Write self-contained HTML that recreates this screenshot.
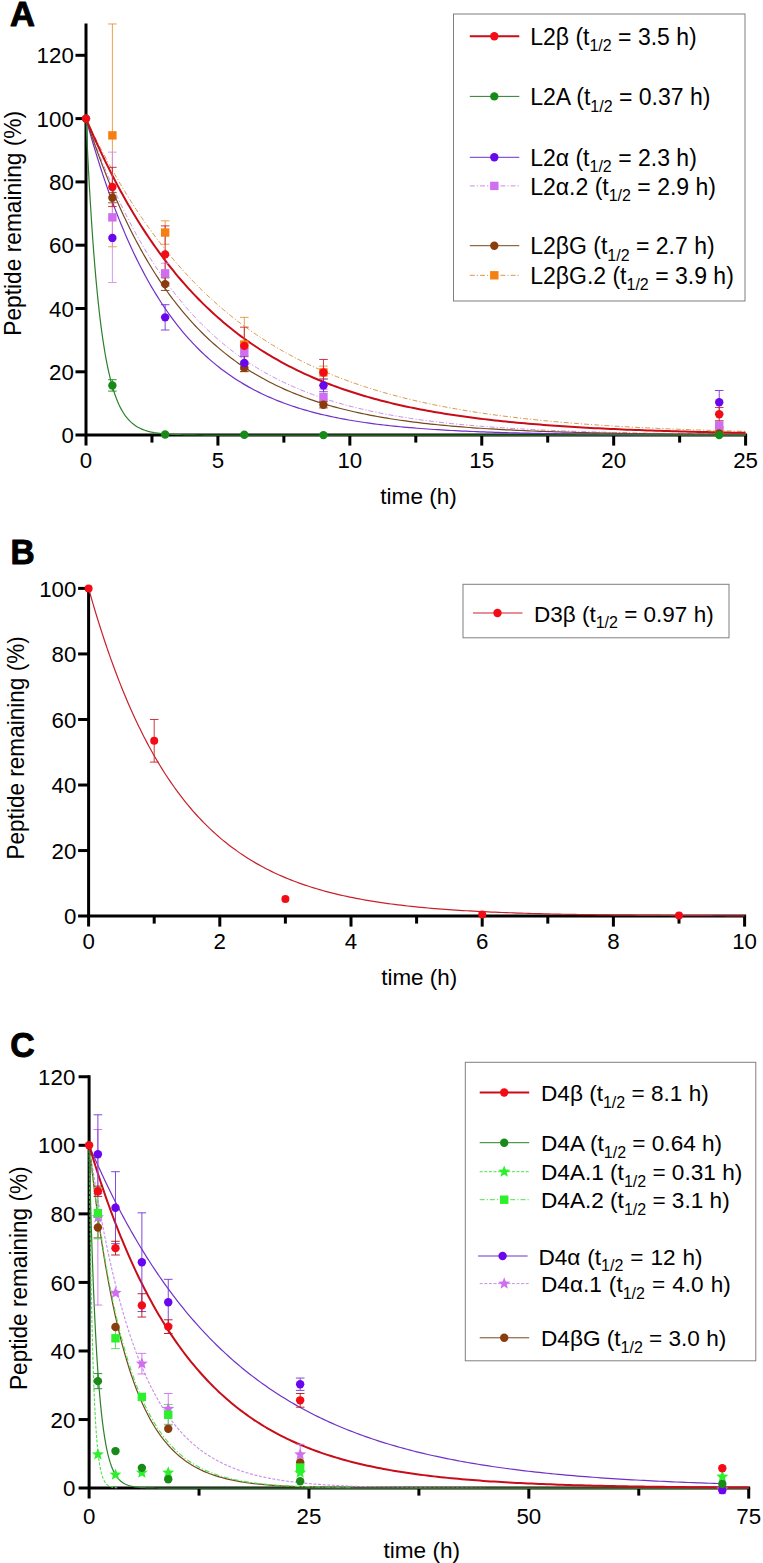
<!DOCTYPE html>
<html><head><meta charset="utf-8"><title>Peptide stability</title>
<style>html,body{margin:0;padding:0;background:#fff}svg{display:block}text{font-family:"Liberation Sans", sans-serif;fill:#000}.tk{font-size:23px}.ax{font-size:22px}.yl{font-size:23.5px}.lg{font-size:23px}.sb{font-size:16px}.pl{font-size:35.6px;font-weight:bold;stroke:#000;stroke-width:1px;stroke-linejoin:round}</style></head><body>
<svg width="763" height="1563" viewBox="0 0 763 1563">
<rect width="763" height="1563" fill="#fff"/>
<!-- Panel A -->
<text transform="translate(9.9 26.4) scale(0.97 1)" text-anchor="start" class="pl">A</text>
<path d="M86 23.6V445.6" stroke="#000" stroke-width="3" fill="none"/>
<path d="M75.5 435.1H747.1" stroke="#000" stroke-width="3" fill="none"/>
<text transform="translate(73.8 443.2) scale(0.97 1)" text-anchor="end" class="tk">0</text>
<path d="M75.5 371.8H86" stroke="#000" stroke-width="3"/>
<text transform="translate(73.8 379.9) scale(0.97 1)" text-anchor="end" class="tk">20</text>
<path d="M75.5 308.5H86" stroke="#000" stroke-width="3"/>
<text transform="translate(73.8 316.6) scale(0.97 1)" text-anchor="end" class="tk">40</text>
<path d="M75.5 245.2H86" stroke="#000" stroke-width="3"/>
<text transform="translate(73.8 253.3) scale(0.97 1)" text-anchor="end" class="tk">60</text>
<path d="M75.5 181.9H86" stroke="#000" stroke-width="3"/>
<text transform="translate(73.8 190) scale(0.97 1)" text-anchor="end" class="tk">80</text>
<path d="M75.5 118.6H86" stroke="#000" stroke-width="3"/>
<text transform="translate(73.8 126.7) scale(0.97 1)" text-anchor="end" class="tk">100</text>
<path d="M75.5 55.3H86" stroke="#000" stroke-width="3"/>
<text transform="translate(73.8 63.4) scale(0.97 1)" text-anchor="end" class="tk">120</text>
<text transform="translate(86 467.5) scale(0.97 1)" text-anchor="middle" class="tk">0</text>
<path d="M217.92 435.1V445.6" stroke="#000" stroke-width="3"/>
<text transform="translate(217.92 467.5) scale(0.97 1)" text-anchor="middle" class="tk">5</text>
<path d="M349.84 435.1V445.6" stroke="#000" stroke-width="3"/>
<text transform="translate(349.84 467.5) scale(0.97 1)" text-anchor="middle" class="tk">10</text>
<path d="M481.76 435.1V445.6" stroke="#000" stroke-width="3"/>
<text transform="translate(481.76 467.5) scale(0.97 1)" text-anchor="middle" class="tk">15</text>
<path d="M613.68 435.1V445.6" stroke="#000" stroke-width="3"/>
<text transform="translate(613.68 467.5) scale(0.97 1)" text-anchor="middle" class="tk">20</text>
<path d="M745.6 435.1V445.6" stroke="#000" stroke-width="3"/>
<text transform="translate(745.6 467.5) scale(0.97 1)" text-anchor="middle" class="tk">25</text>
<path d="M151.96 435.1V442.6" stroke="#000" stroke-width="3"/>
<path d="M283.88 435.1V442.6" stroke="#000" stroke-width="3"/>
<path d="M415.8 435.1V442.6" stroke="#000" stroke-width="3"/>
<path d="M547.72 435.1V442.6" stroke="#000" stroke-width="3"/>
<path d="M679.64 435.1V442.6" stroke="#000" stroke-width="3"/>
<text x="418.6" y="504.2" text-anchor="middle" class="ax" style="font-size:22.6px">time (h)</text>
<text transform="translate(20.9 223.3) rotate(-90) scale(0.967 1)" text-anchor="middle" class="yl">Peptide remaining (%)</text>
<path d="M86 118.6L86.1 118.82L86.31 119.26L86.59 119.87L86.94 120.6L87.35 121.46L87.8 122.42L88.31 123.48L88.86 124.63L89.45 125.87L90.08 127.19L90.76 128.58L91.47 130.04L92.21 131.57L92.99 133.17L93.81 134.82L94.66 136.54L95.54 138.3L96.46 140.13L97.4 142L98.38 143.92L99.38 145.88L100.42 147.89L101.48 149.94L102.57 152.02L103.69 154.15L104.83 156.31L106 158.5L107.2 160.73L108.43 162.98L109.68 165.26L110.95 167.57L112.25 169.9L113.58 172.26L114.93 174.64L116.3 177.04L117.7 179.45L119.12 181.89L120.56 184.34L122.03 186.8L123.52 189.28L125.03 191.77L126.56 194.27L128.12 196.79L129.7 199.31L131.3 201.83L132.92 204.37L134.56 206.91L136.23 209.45L137.91 212L139.62 214.54L141.34 217.09L143.09 219.64L144.86 222.19L146.64 224.74L148.45 227.28L150.28 229.83L152.12 232.36L153.99 234.89L155.87 237.42L157.78 239.94L159.7 242.45L161.64 244.96L163.6 247.45L165.58 249.94L167.58 252.42L169.6 254.88L171.64 257.34L173.69 259.78L175.76 262.21L177.85 264.63L179.96 267.03L182.09 269.42L184.23 271.8L186.4 274.16L188.57 276.51L190.77 278.84L192.99 281.15L195.22 283.45L197.47 285.73L199.73 287.99L202.02 290.23L204.32 292.46L206.63 294.67L208.97 296.86L211.32 299.03L213.69 301.19L216.07 303.32L218.47 305.43L220.89 307.53L223.32 309.6L225.77 311.65L228.23 313.69L230.72 315.7L233.21 317.69L235.73 319.66L238.26 321.61L240.8 323.54L243.36 325.45L245.94 327.34L248.53 329.2L251.14 331.05L253.77 332.87L256.4 334.67L259.06 336.45L261.73 338.21L264.42 339.95L267.12 341.66L269.83 343.36L272.56 345.03L275.31 346.68L278.07 348.31L280.85 349.92L283.64 351.5L286.44 353.07L289.26 354.61L292.1 356.14L294.95 357.64L297.81 359.12L300.69 360.58L303.59 362.02L306.5 363.43L309.42 364.83L312.36 366.21L315.31 367.56L318.27 368.9L321.25 370.22L324.25 371.51L327.26 372.79L330.28 374.04L333.32 375.28L336.37 376.5L339.43 377.69L342.51 378.87L345.6 380.03L348.71 381.17L351.83 382.29L354.96 383.4L358.11 384.48L361.27 385.55L364.45 386.6L367.64 387.63L370.84 388.64L374.06 389.64L377.29 390.62L380.53 391.58L383.79 392.52L387.06 393.45L390.34 394.36L393.64 395.26L396.95 396.13L400.27 397L403.61 397.84L406.96 398.67L410.32 399.49L413.7 400.29L417.09 401.08L420.49 401.85L423.9 402.6L427.33 403.35L430.77 404.07L434.23 404.79L437.7 405.49L441.18 406.17L444.67 406.85L448.17 407.51L451.69 408.15L455.22 408.79L458.77 409.41L462.32 410.01L465.89 410.61L469.47 411.19L473.07 411.77L476.68 412.33L480.3 412.87L483.93 413.41L487.57 413.94L491.23 414.45L494.9 414.96L498.58 415.45L502.27 415.93L505.98 416.41L509.7 416.87L513.43 417.32L517.17 417.76L520.93 418.2L524.7 418.62L528.48 419.03L532.27 419.44L536.07 419.84L539.89 420.22L543.72 420.6L547.56 420.97L551.41 421.33L555.27 421.69L559.15 422.03L563.04 422.37L566.94 422.7L570.85 423.02L574.77 423.34L578.71 423.65L582.66 423.95L586.62 424.24L590.59 424.53L594.57 424.81L598.56 425.08L602.57 425.35L606.59 425.61L610.62 425.86L614.66 426.11L618.71 426.35L622.78 426.59L626.85 426.82L630.94 427.04L635.04 427.26L639.15 427.48L643.27 427.69L647.41 427.89L651.55 428.09L655.71 428.28L659.88 428.47L664.06 428.65L668.25 428.83L672.45 429.01L676.66 429.18L680.89 429.35L685.12 429.51L689.37 429.67L693.63 429.82L697.9 429.97L702.18 430.11L706.47 430.26L710.77 430.39L715.09 430.53L719.41 430.66L723.75 430.79L728.1 430.91L732.46 431.03L736.83 431.15L741.21 431.27L745.6 431.38" stroke="#d9994a" stroke-width="1" fill="none" stroke-dasharray="5 2 1.2 2"/>
<path d="M86 118.6L86.1 118.89L86.31 119.49L86.59 120.3L86.94 121.29L87.35 122.44L87.8 123.73L88.31 125.15L88.86 126.69L89.45 128.34L90.08 130.09L90.76 131.94L91.47 133.89L92.21 135.92L92.99 138.03L93.81 140.22L94.66 142.48L95.54 144.81L96.46 147.2L97.4 149.66L98.38 152.17L99.38 154.73L100.42 157.35L101.48 160.01L102.57 162.71L103.69 165.46L104.83 168.24L106 171.06L107.2 173.91L108.43 176.79L109.68 179.7L110.95 182.64L112.25 185.59L113.58 188.57L114.93 191.56L116.3 194.57L117.7 197.6L119.12 200.64L120.56 203.68L122.03 206.74L123.52 209.8L125.03 212.86L126.56 215.93L128.12 219L129.7 222.07L131.3 225.13L132.92 228.19L134.56 231.25L136.23 234.3L137.91 237.34L139.62 240.37L141.34 243.39L143.09 246.4L144.86 249.4L146.64 252.38L148.45 255.35L150.28 258.3L152.12 261.23L153.99 264.14L155.87 267.04L157.78 269.91L159.7 272.77L161.64 275.6L163.6 278.41L165.58 281.19L167.58 283.95L169.6 286.69L171.64 289.4L173.69 292.09L175.76 294.75L177.85 297.38L179.96 299.99L182.09 302.57L184.23 305.12L186.4 307.64L188.57 310.13L190.77 312.59L192.99 315.02L195.22 317.43L197.47 319.8L199.73 322.14L202.02 324.46L204.32 326.74L206.63 328.99L208.97 331.21L211.32 333.4L213.69 335.56L216.07 337.68L218.47 339.78L220.89 341.84L223.32 343.87L225.77 345.88L228.23 347.85L230.72 349.79L233.21 351.7L235.73 353.57L238.26 355.42L240.8 357.24L243.36 359.02L245.94 360.78L248.53 362.5L251.14 364.2L253.77 365.86L256.4 367.5L259.06 369.11L261.73 370.68L264.42 372.23L267.12 373.75L269.83 375.24L272.56 376.71L275.31 378.14L278.07 379.55L280.85 380.93L283.64 382.28L286.44 383.61L289.26 384.9L292.1 386.18L294.95 387.42L297.81 388.65L300.69 389.84L303.59 391.01L306.5 392.16L309.42 393.28L312.36 394.38L315.31 395.45L318.27 396.5L321.25 397.53L324.25 398.54L327.26 399.52L330.28 400.48L333.32 401.42L336.37 402.34L339.43 403.24L342.51 404.11L345.6 404.97L348.71 405.81L351.83 406.62L354.96 407.42L358.11 408.2L361.27 408.96L364.45 409.7L367.64 410.42L370.84 411.13L374.06 411.82L377.29 412.49L380.53 413.14L383.79 413.78L387.06 414.4L390.34 415.01L393.64 415.6L396.95 416.18L400.27 416.74L403.61 417.28L406.96 417.82L410.32 418.34L413.7 418.84L417.09 419.33L420.49 419.81L423.9 420.28L427.33 420.73L430.77 421.17L434.23 421.6L437.7 422.02L441.18 422.42L444.67 422.82L448.17 423.2L451.69 423.58L455.22 423.94L458.77 424.29L462.32 424.63L465.89 424.97L469.47 425.29L473.07 425.6L476.68 425.91L480.3 426.21L483.93 426.49L487.57 426.77L491.23 427.04L494.9 427.31L498.58 427.56L502.27 427.81L505.98 428.05L509.7 428.29L513.43 428.51L517.17 428.73L520.93 428.95L524.7 429.15L528.48 429.35L532.27 429.55L536.07 429.73L539.89 429.92L543.72 430.09L547.56 430.26L551.41 430.43L555.27 430.59L559.15 430.75L563.04 430.9L566.94 431.04L570.85 431.18L574.77 431.32L578.71 431.45L582.66 431.58L586.62 431.71L590.59 431.83L594.57 431.94L598.56 432.05L602.57 432.16L606.59 432.27L610.62 432.37L614.66 432.47L618.71 432.56L622.78 432.65L626.85 432.74L630.94 432.83L635.04 432.91L639.15 432.99L643.27 433.07L647.41 433.14L651.55 433.22L655.71 433.28L659.88 433.35L664.06 433.42L668.25 433.48L672.45 433.54L676.66 433.6L680.89 433.65L685.12 433.71L689.37 433.76L693.63 433.81L697.9 433.86L702.18 433.91L706.47 433.95L710.77 434L715.09 434.04L719.41 434.08L723.75 434.12L728.1 434.16L732.46 434.19L736.83 434.23L741.21 434.26L745.6 434.3" stroke="#c88fe8" stroke-width="1" fill="none" stroke-dasharray="5 2 1.2 2"/>
<path d="M86 118.6L86.1 118.98L86.31 119.74L86.59 120.77L86.94 122.03L87.35 123.49L87.8 125.14L88.31 126.94L88.86 128.89L89.45 130.99L90.08 133.21L90.76 135.55L91.47 138L92.21 140.56L92.99 143.21L93.81 145.96L94.66 148.78L95.54 151.69L96.46 154.67L97.4 157.72L98.38 160.84L99.38 164.01L100.42 167.23L101.48 170.51L102.57 173.83L103.69 177.19L104.83 180.58L106 184.01L107.2 187.47L108.43 190.95L109.68 194.46L110.95 197.99L112.25 201.53L113.58 205.08L114.93 208.65L116.3 212.22L117.7 215.79L119.12 219.37L120.56 222.94L122.03 226.51L123.52 230.08L125.03 233.63L126.56 237.18L128.12 240.71L129.7 244.23L131.3 247.73L132.92 251.22L134.56 254.68L136.23 258.12L137.91 261.54L139.62 264.93L141.34 268.29L143.09 271.63L144.86 274.94L146.64 278.22L148.45 281.46L150.28 284.68L152.12 287.86L153.99 291L155.87 294.11L157.78 297.19L159.7 300.22L161.64 303.22L163.6 306.18L165.58 309.1L167.58 311.98L169.6 314.83L171.64 317.63L173.69 320.39L175.76 323.1L177.85 325.78L179.96 328.42L182.09 331.01L184.23 333.56L186.4 336.07L188.57 338.54L190.77 340.96L192.99 343.34L195.22 345.68L197.47 347.98L199.73 350.24L202.02 352.45L204.32 354.62L206.63 356.75L208.97 358.84L211.32 360.88L213.69 362.89L216.07 364.85L218.47 366.78L220.89 368.66L223.32 370.51L225.77 372.31L228.23 374.08L230.72 375.81L233.21 377.5L235.73 379.15L238.26 380.76L240.8 382.34L243.36 383.88L245.94 385.39L248.53 386.86L251.14 388.29L253.77 389.69L256.4 391.06L259.06 392.39L261.73 393.69L264.42 394.96L267.12 396.19L269.83 397.4L272.56 398.57L275.31 399.71L278.07 400.82L280.85 401.91L283.64 402.96L286.44 403.99L289.26 404.99L292.1 405.96L294.95 406.91L297.81 407.83L300.69 408.72L303.59 409.59L306.5 410.43L309.42 411.25L312.36 412.05L315.31 412.82L318.27 413.58L321.25 414.31L324.25 415.01L327.26 415.7L330.28 416.37L333.32 417.02L336.37 417.64L339.43 418.25L342.51 418.84L345.6 419.41L348.71 419.97L351.83 420.5L354.96 421.02L358.11 421.53L361.27 422.01L364.45 422.49L367.64 422.94L370.84 423.39L374.06 423.81L377.29 424.23L380.53 424.63L383.79 425.02L387.06 425.39L390.34 425.75L393.64 426.1L396.95 426.44L400.27 426.77L403.61 427.08L406.96 427.39L410.32 427.68L413.7 427.97L417.09 428.24L420.49 428.51L423.9 428.76L427.33 429.01L430.77 429.25L434.23 429.48L437.7 429.7L441.18 429.91L444.67 430.12L448.17 430.31L451.69 430.5L455.22 430.69L458.77 430.87L462.32 431.04L465.89 431.2L469.47 431.36L473.07 431.51L476.68 431.66L480.3 431.8L483.93 431.94L487.57 432.07L491.23 432.19L494.9 432.31L498.58 432.43L502.27 432.54L505.98 432.65L509.7 432.75L513.43 432.85L517.17 432.95L520.93 433.04L524.7 433.13L528.48 433.21L532.27 433.29L536.07 433.37L539.89 433.44L543.72 433.52L547.56 433.58L551.41 433.65L555.27 433.71L559.15 433.78L563.04 433.83L566.94 433.89L570.85 433.94L574.77 433.99L578.71 434.04L582.66 434.09L586.62 434.14L590.59 434.18L594.57 434.22L598.56 434.26L602.57 434.3L606.59 434.33L610.62 434.37L614.66 434.4L618.71 434.43L622.78 434.47L626.85 434.49L630.94 434.52L635.04 434.55L639.15 434.58L643.27 434.6L647.41 434.62L651.55 434.65L655.71 434.67L659.88 434.69L664.06 434.71L668.25 434.73L672.45 434.74L676.66 434.76L680.89 434.78L685.12 434.79L689.37 434.81L693.63 434.82L697.9 434.83L702.18 434.85L706.47 434.86L710.77 434.87L715.09 434.88L719.41 434.89L723.75 434.9L728.1 434.91L732.46 434.92L736.83 434.93L741.21 434.94L745.6 434.95" stroke="#6f30c8" stroke-width="1.2" fill="none"/>
<path d="M86 118.6L86.1 118.92L86.31 119.56L86.59 120.43L86.94 121.49L87.35 122.72L87.8 124.1L88.31 125.63L88.86 127.28L89.45 129.05L90.08 130.93L90.76 132.91L91.47 134.99L92.21 137.16L92.99 139.42L93.81 141.76L94.66 144.18L95.54 146.66L96.46 149.22L97.4 151.83L98.38 154.51L99.38 157.24L100.42 160.02L101.48 162.85L102.57 165.72L103.69 168.64L104.83 171.59L106 174.58L107.2 177.6L108.43 180.65L109.68 183.73L110.95 186.83L112.25 189.95L113.58 193.09L114.93 196.25L116.3 199.42L117.7 202.6L119.12 205.79L120.56 208.99L122.03 212.19L123.52 215.4L125.03 218.61L126.56 221.82L128.12 225.02L129.7 228.22L131.3 231.42L132.92 234.61L134.56 237.78L136.23 240.95L137.91 244.11L139.62 247.25L141.34 250.38L143.09 253.49L144.86 256.59L146.64 259.67L148.45 262.72L150.28 265.76L152.12 268.77L153.99 271.77L155.87 274.74L157.78 277.68L159.7 280.6L161.64 283.49L163.6 286.36L165.58 289.2L167.58 292.01L169.6 294.79L171.64 297.54L173.69 300.26L175.76 302.95L177.85 305.62L179.96 308.24L182.09 310.84L184.23 313.41L186.4 315.94L188.57 318.44L190.77 320.91L192.99 323.34L195.22 325.74L197.47 328.11L199.73 330.44L202.02 332.74L204.32 335.01L206.63 337.24L208.97 339.44L211.32 341.6L213.69 343.73L216.07 345.82L218.47 347.89L220.89 349.91L223.32 351.91L225.77 353.86L228.23 355.79L230.72 357.68L233.21 359.54L235.73 361.37L238.26 363.16L240.8 364.92L243.36 366.65L245.94 368.34L248.53 370.01L251.14 371.64L253.77 373.24L256.4 374.8L259.06 376.34L261.73 377.85L264.42 379.33L267.12 380.77L269.83 382.19L272.56 383.58L275.31 384.94L278.07 386.27L280.85 387.57L283.64 388.84L286.44 390.09L289.26 391.3L292.1 392.5L294.95 393.66L297.81 394.8L300.69 395.91L303.59 397L306.5 398.06L309.42 399.1L312.36 400.12L315.31 401.11L318.27 402.08L321.25 403.02L324.25 403.94L327.26 404.84L330.28 405.72L333.32 406.57L336.37 407.41L339.43 408.22L342.51 409.01L345.6 409.79L348.71 410.54L351.83 411.27L354.96 411.99L358.11 412.69L361.27 413.37L364.45 414.03L367.64 414.67L370.84 415.3L374.06 415.91L377.29 416.5L380.53 417.08L383.79 417.64L387.06 418.19L390.34 418.72L393.64 419.24L396.95 419.74L400.27 420.23L403.61 420.7L406.96 421.17L410.32 421.61L413.7 422.05L417.09 422.47L420.49 422.88L423.9 423.28L427.33 423.67L430.77 424.05L434.23 424.41L437.7 424.77L441.18 425.11L444.67 425.45L448.17 425.77L451.69 426.08L455.22 426.39L458.77 426.68L462.32 426.97L465.89 427.25L469.47 427.52L473.07 427.78L476.68 428.03L480.3 428.27L483.93 428.51L487.57 428.74L491.23 428.96L494.9 429.18L498.58 429.39L502.27 429.59L505.98 429.78L509.7 429.97L513.43 430.16L517.17 430.33L520.93 430.5L524.7 430.67L528.48 430.83L532.27 430.98L536.07 431.13L539.89 431.28L543.72 431.42L547.56 431.55L551.41 431.68L555.27 431.81L559.15 431.93L563.04 432.05L566.94 432.16L570.85 432.27L574.77 432.38L578.71 432.48L582.66 432.58L586.62 432.67L590.59 432.77L594.57 432.85L598.56 432.94L602.57 433.02L606.59 433.1L610.62 433.18L614.66 433.25L618.71 433.32L622.78 433.39L626.85 433.46L630.94 433.52L635.04 433.59L639.15 433.64L643.27 433.7L647.41 433.76L651.55 433.81L655.71 433.86L659.88 433.91L664.06 433.96L668.25 434L672.45 434.05L676.66 434.09L680.89 434.13L685.12 434.17L689.37 434.21L693.63 434.24L697.9 434.28L702.18 434.31L706.47 434.34L710.77 434.38L715.09 434.4L719.41 434.43L723.75 434.46L728.1 434.49L732.46 434.51L736.83 434.54L741.21 434.56L745.6 434.58" stroke="#76481c" stroke-width="1.2" fill="none"/>
<path d="M86 118.6L86.1 120.9L86.31 125.51L86.59 131.69L86.94 139.09L87.35 147.46L87.8 156.63L88.31 166.43L88.86 176.71L89.45 187.35L90.08 198.25L90.76 209.29L91.47 220.4L92.21 231.49L92.99 242.48L93.81 253.33L94.66 263.97L95.54 274.36L96.46 284.46L97.4 294.24L98.38 303.66L99.38 312.71L100.42 321.37L101.48 329.64L102.57 337.5L103.69 344.95L104.83 351.99L106 358.63L107.2 364.87L108.43 370.71L109.68 376.18L110.95 381.28L112.25 386.03L113.58 390.44L114.93 394.52L116.3 398.29L117.7 401.76L119.12 404.96L120.56 407.9L122.03 410.59L123.52 413.05L125.03 415.29L126.56 417.34L128.12 419.2L129.7 420.88L131.3 422.41L132.92 423.79L134.56 425.03L136.23 426.16L137.91 427.16L139.62 428.07L141.34 428.88L143.09 429.61L144.86 430.25L146.64 430.83L148.45 431.34L150.28 431.8L152.12 432.21L153.99 432.57L155.87 432.88L157.78 433.16L159.7 433.41L161.64 433.63L163.6 433.82L165.58 433.99L167.58 434.13L169.6 434.26L171.64 434.38L173.69 434.47L175.76 434.56L177.85 434.63L179.96 434.7L182.09 434.76L184.23 434.8L186.4 434.85L188.57 434.88L190.77 434.91L192.99 434.94L195.22 434.96L197.47 434.98L199.73 435L202.02 435.02L204.32 435.03L206.63 435.04L208.97 435.05L211.32 435.06L213.69 435.06L216.07 435.07L218.47 435.07L220.89 435.08L223.32 435.08L225.77 435.08L228.23 435.09L230.72 435.09L233.21 435.09L235.73 435.09L238.26 435.09L240.8 435.09L243.36 435.1L245.94 435.1L248.53 435.1L251.14 435.1L253.77 435.1L256.4 435.1L259.06 435.1L261.73 435.1L264.42 435.1L267.12 435.1L269.83 435.1L272.56 435.1L275.31 435.1L278.07 435.1L280.85 435.1L283.64 435.1L286.44 435.1L289.26 435.1L292.1 435.1L294.95 435.1L297.81 435.1L300.69 435.1L303.59 435.1L306.5 435.1L309.42 435.1L312.36 435.1L315.31 435.1L318.27 435.1L321.25 435.1L324.25 435.1L327.26 435.1L330.28 435.1L333.32 435.1L336.37 435.1L339.43 435.1L342.51 435.1L345.6 435.1L348.71 435.1L351.83 435.1L354.96 435.1L358.11 435.1L361.27 435.1L364.45 435.1L367.64 435.1L370.84 435.1L374.06 435.1L377.29 435.1L380.53 435.1L383.79 435.1L387.06 435.1L390.34 435.1L393.64 435.1L396.95 435.1L400.27 435.1L403.61 435.1L406.96 435.1L410.32 435.1L413.7 435.1L417.09 435.1L420.49 435.1L423.9 435.1L427.33 435.1L430.77 435.1L434.23 435.1L437.7 435.1L441.18 435.1L444.67 435.1L448.17 435.1L451.69 435.1L455.22 435.1L458.77 435.1L462.32 435.1L465.89 435.1L469.47 435.1L473.07 435.1L476.68 435.1L480.3 435.1L483.93 435.1L487.57 435.1L491.23 435.1L494.9 435.1L498.58 435.1L502.27 435.1L505.98 435.1L509.7 435.1L513.43 435.1L517.17 435.1L520.93 435.1L524.7 435.1L528.48 435.1L532.27 435.1L536.07 435.1L539.89 435.1L543.72 435.1L547.56 435.1L551.41 435.1L555.27 435.1L559.15 435.1L563.04 435.1L566.94 435.1L570.85 435.1L574.77 435.1L578.71 435.1L582.66 435.1L586.62 435.1L590.59 435.1L594.57 435.1L598.56 435.1L602.57 435.1L606.59 435.1L610.62 435.1L614.66 435.1L618.71 435.1L622.78 435.1L626.85 435.1L630.94 435.1L635.04 435.1L639.15 435.1L643.27 435.1L647.41 435.1L651.55 435.1L655.71 435.1L659.88 435.1L664.06 435.1L668.25 435.1L672.45 435.1L676.66 435.1L680.89 435.1L685.12 435.1L689.37 435.1L693.63 435.1L697.9 435.1L702.18 435.1L706.47 435.1L710.77 435.1L715.09 435.1L719.41 435.1L723.75 435.1L728.1 435.1L732.46 435.1L736.83 435.1L741.21 435.1L745.6 435.1" stroke="#2c7f2c" stroke-width="1.2" fill="none"/>
<path d="M86 118.6L86.1 118.84L86.31 119.34L86.59 120.01L86.94 120.83L87.35 121.78L87.8 122.85L88.31 124.03L88.86 125.31L89.45 126.69L90.08 128.15L90.76 129.7L91.47 131.32L92.21 133.02L92.99 134.79L93.81 136.62L94.66 138.52L95.54 140.48L96.46 142.49L97.4 144.56L98.38 146.68L99.38 148.85L100.42 151.06L101.48 153.31L102.57 155.61L103.69 157.95L104.83 160.32L106 162.73L107.2 165.17L108.43 167.64L109.68 170.14L110.95 172.66L112.25 175.21L113.58 177.78L114.93 180.37L116.3 182.99L117.7 185.62L119.12 188.26L120.56 190.92L122.03 193.6L123.52 196.28L125.03 198.98L126.56 201.68L128.12 204.39L129.7 207.11L131.3 209.83L132.92 212.55L134.56 215.28L136.23 218.01L137.91 220.74L139.62 223.46L141.34 226.19L143.09 228.91L144.86 231.62L146.64 234.33L148.45 237.04L150.28 239.74L152.12 242.42L153.99 245.1L155.87 247.77L157.78 250.43L159.7 253.08L161.64 255.71L163.6 258.34L165.58 260.94L167.58 263.54L169.6 266.12L171.64 268.68L173.69 271.23L175.76 273.76L177.85 276.27L179.96 278.76L182.09 281.24L184.23 283.69L186.4 286.13L188.57 288.55L190.77 290.94L192.99 293.32L195.22 295.68L197.47 298.01L199.73 300.32L202.02 302.61L204.32 304.88L206.63 307.13L208.97 309.35L211.32 311.55L213.69 313.72L216.07 315.88L218.47 318L220.89 320.11L223.32 322.19L225.77 324.25L228.23 326.28L230.72 328.29L233.21 330.27L235.73 332.23L238.26 334.17L240.8 336.08L243.36 337.96L245.94 339.82L248.53 341.66L251.14 343.47L253.77 345.26L256.4 347.02L259.06 348.76L261.73 350.47L264.42 352.16L267.12 353.82L269.83 355.46L272.56 357.08L275.31 358.67L278.07 360.24L280.85 361.78L283.64 363.3L286.44 364.8L289.26 366.27L292.1 367.72L294.95 369.15L297.81 370.55L300.69 371.93L303.59 373.29L306.5 374.62L309.42 375.94L312.36 377.23L315.31 378.49L318.27 379.74L321.25 380.97L324.25 382.17L327.26 383.35L330.28 384.51L333.32 385.65L336.37 386.77L339.43 387.87L342.51 388.95L345.6 390.01L348.71 391.05L351.83 392.07L354.96 393.07L358.11 394.05L361.27 395.01L364.45 395.96L367.64 396.88L370.84 397.79L374.06 398.68L377.29 399.55L380.53 400.41L383.79 401.25L387.06 402.07L390.34 402.87L393.64 403.66L396.95 404.43L400.27 405.19L403.61 405.93L406.96 406.65L410.32 407.36L413.7 408.05L417.09 408.73L420.49 409.4L423.9 410.05L427.33 410.68L430.77 411.31L434.23 411.92L437.7 412.51L441.18 413.09L444.67 413.66L448.17 414.22L451.69 414.76L455.22 415.3L458.77 415.82L462.32 416.32L465.89 416.82L469.47 417.31L473.07 417.78L476.68 418.24L480.3 418.69L483.93 419.13L487.57 419.57L491.23 419.99L494.9 420.4L498.58 420.8L502.27 421.19L505.98 421.57L509.7 421.94L513.43 422.31L517.17 422.66L520.93 423.01L524.7 423.34L528.48 423.67L532.27 423.99L536.07 424.31L539.89 424.61L543.72 424.91L547.56 425.2L551.41 425.48L555.27 425.75L559.15 426.02L563.04 426.28L566.94 426.54L570.85 426.79L574.77 427.03L578.71 427.26L582.66 427.49L586.62 427.71L590.59 427.93L594.57 428.14L598.56 428.35L602.57 428.55L606.59 428.74L610.62 428.93L614.66 429.12L618.71 429.3L622.78 429.47L626.85 429.64L630.94 429.8L635.04 429.96L639.15 430.12L643.27 430.27L647.41 430.42L651.55 430.56L655.71 430.7L659.88 430.84L664.06 430.97L668.25 431.1L672.45 431.22L676.66 431.34L680.89 431.46L685.12 431.57L689.37 431.68L693.63 431.79L697.9 431.9L702.18 432L706.47 432.1L710.77 432.19L715.09 432.28L719.41 432.37L723.75 432.46L728.1 432.55L732.46 432.63L736.83 432.71L741.21 432.79L745.6 432.86" stroke="#c90d18" stroke-width="2" fill="none"/>
<path d="M112.38 23.97V246.78M108.08 23.97H116.68M108.08 246.78H116.68" stroke="#e8933c" stroke-width="0.9" fill="none"/>
<path d="M165.15 220.83V244.25M160.85 220.83H169.45M160.85 244.25H169.45" stroke="#e8933c" stroke-width="0.9" fill="none"/>
<path d="M244.3 317.36V371.8M240 317.36H248.6M240 371.8H248.6" stroke="#e8933c" stroke-width="0.9" fill="none"/>
<path d="M323.46 366.1V378.76M319.16 366.1H327.76M319.16 378.76H327.76" stroke="#e8933c" stroke-width="0.9" fill="none"/>
<path d="M719.22 427.19V433.52M714.92 427.19H723.52M714.92 433.52H723.52" stroke="#e8933c" stroke-width="0.9" fill="none"/>
<path d="M112.38 152.15V282.55M108.08 152.15H116.68M108.08 282.55H116.68" stroke="#cf8fee" stroke-width="0.9" fill="none"/>
<path d="M165.15 263.24V283.5M160.85 263.24H169.45M160.85 283.5H169.45" stroke="#cf8fee" stroke-width="0.9" fill="none"/>
<path d="M244.3 342.37V361.36M240 342.37H248.6M240 361.36H248.6" stroke="#cf8fee" stroke-width="0.9" fill="none"/>
<path d="M323.46 389.21V405.03M319.16 389.21H327.76M319.16 405.03H327.76" stroke="#cf8fee" stroke-width="0.9" fill="none"/>
<path d="M719.22 420.86V430.35M714.92 420.86H723.52M714.92 430.35H723.52" stroke="#cf8fee" stroke-width="0.9" fill="none"/>
<path d="M112.38 192.66V202.79M108.08 192.66H116.68M108.08 202.79H116.68" stroke="#8a3c0c" stroke-width="0.9" fill="none"/>
<path d="M165.15 277.8V290.46M160.85 277.8H169.45M160.85 290.46H169.45" stroke="#8a3c0c" stroke-width="0.9" fill="none"/>
<path d="M244.3 363.89V371.48M240 363.89H248.6M240 371.48H248.6" stroke="#8a3c0c" stroke-width="0.9" fill="none"/>
<path d="M323.46 401.55V407.88M319.16 401.55H327.76M319.16 407.88H327.76" stroke="#8a3c0c" stroke-width="0.9" fill="none"/>
<path d="M165.15 304.7V330.02M160.85 304.7H169.45M160.85 330.02H169.45" stroke="#7433d6" stroke-width="0.9" fill="none"/>
<path d="M244.3 356.61V369.27M240 356.61H248.6M240 369.27H248.6" stroke="#7433d6" stroke-width="0.9" fill="none"/>
<path d="M323.46 379.08V391.74M319.16 379.08H327.76M319.16 391.74H327.76" stroke="#7433d6" stroke-width="0.9" fill="none"/>
<path d="M719.22 390.47V413.89M714.92 390.47H723.52M714.92 413.89H723.52" stroke="#7433d6" stroke-width="0.9" fill="none"/>
<path d="M112.38 379.71V391.11M108.08 379.71H116.68M108.08 391.11H116.68" stroke="#188a18" stroke-width="0.9" fill="none"/>
<path d="M112.38 167.34V206.59M108.08 167.34H116.68M108.08 206.59H116.68" stroke="#c8202a" stroke-width="0.9" fill="none"/>
<path d="M165.15 225.89V282.86M160.85 225.89H169.45M160.85 282.86H169.45" stroke="#c8202a" stroke-width="0.9" fill="none"/>
<path d="M244.3 327.17V364.52M240 327.17H248.6M240 364.52H248.6" stroke="#c8202a" stroke-width="0.9" fill="none"/>
<path d="M323.46 359.46V385.41M319.16 359.46H327.76M319.16 385.41H327.76" stroke="#c8202a" stroke-width="0.9" fill="none"/>
<path d="M719.22 407.56V420.86M714.92 407.56H723.52M714.92 420.86H723.52" stroke="#c8202a" stroke-width="0.9" fill="none"/>
<rect x="108.18" y="131.17" width="8.4" height="8.4" fill="#f57f10"/>
<rect x="160.95" y="228.34" width="8.4" height="8.4" fill="#f57f10"/>
<rect x="240.1" y="340.38" width="8.4" height="8.4" fill="#f57f10"/>
<rect x="319.26" y="368.23" width="8.4" height="8.4" fill="#f57f10"/>
<rect x="715.02" y="426.15" width="8.4" height="8.4" fill="#f57f10"/>
<rect x="108.18" y="213.15" width="8.4" height="8.4" fill="#cf6ff0"/>
<rect x="160.95" y="269.17" width="8.4" height="8.4" fill="#cf6ff0"/>
<rect x="240.1" y="347.66" width="8.4" height="8.4" fill="#cf6ff0"/>
<rect x="319.26" y="392.92" width="8.4" height="8.4" fill="#cf6ff0"/>
<rect x="715.02" y="421.41" width="8.4" height="8.4" fill="#cf6ff0"/>
<circle cx="112.38" cy="197.73" r="4.2" fill="#8a3c0c"/>
<circle cx="165.15" cy="284.13" r="4.2" fill="#8a3c0c"/>
<circle cx="244.3" cy="367.69" r="4.2" fill="#8a3c0c"/>
<circle cx="323.46" cy="404.72" r="4.2" fill="#8a3c0c"/>
<circle cx="719.22" cy="433.52" r="4.2" fill="#8a3c0c"/>
<circle cx="112.38" cy="237.92" r="4.2" fill="#6a06ee"/>
<circle cx="165.15" cy="317.36" r="4.2" fill="#6a06ee"/>
<circle cx="244.3" cy="362.94" r="4.2" fill="#6a06ee"/>
<circle cx="323.46" cy="385.41" r="4.2" fill="#6a06ee"/>
<circle cx="719.22" cy="402.18" r="4.2" fill="#6a06ee"/>
<circle cx="86" cy="118.6" r="4.2" fill="#188a18"/>
<circle cx="112.38" cy="385.41" r="4.2" fill="#188a18"/>
<circle cx="165.15" cy="434.47" r="4.2" fill="#188a18"/>
<circle cx="244.3" cy="434.78" r="4.2" fill="#188a18"/>
<circle cx="323.46" cy="435.1" r="4.2" fill="#188a18"/>
<circle cx="719.22" cy="435.1" r="4.2" fill="#188a18"/>
<circle cx="86" cy="118.6" r="4.2" fill="#f30b16"/>
<circle cx="112.38" cy="186.96" r="4.2" fill="#f30b16"/>
<circle cx="165.15" cy="254.38" r="4.2" fill="#f30b16"/>
<circle cx="244.3" cy="345.85" r="4.2" fill="#f30b16"/>
<circle cx="323.46" cy="372.43" r="4.2" fill="#f30b16"/>
<circle cx="719.22" cy="414.21" r="4.2" fill="#f30b16"/>
<rect x="453.5" y="14" width="291.5" height="287" fill="#fff" stroke="#7f7f7f" stroke-width="1"/>
<path d="M469.8 36.2H519.3" stroke="#c90d18" stroke-width="2"/>
<circle cx="494.3" cy="36.2" r="4.2" fill="#f30b16"/>
<text x="530.2" y="44.8" class="lg" style="font-size:23px;word-spacing:0px">L2β (t<tspan class="sb" dy="6.5">1/2</tspan><tspan dy="-6.5"> = 3.5 h)</tspan></text>
<path d="M469.8 96.4H519.3" stroke="#2c7f2c" stroke-width="1"/>
<circle cx="494.3" cy="96.4" r="4.2" fill="#188a18"/>
<text x="530.2" y="105" class="lg" style="font-size:23px;word-spacing:0px">L2A (t<tspan class="sb" dy="6.5">1/2</tspan><tspan dy="-6.5"> = 0.37 h)</tspan></text>
<path d="M469.8 157.3H519.3" stroke="#6f30c8" stroke-width="1"/>
<circle cx="494.3" cy="157.3" r="4.2" fill="#6a06ee"/>
<text x="530.2" y="165.9" class="lg" style="font-size:23px;word-spacing:0px">L2α (t<tspan class="sb" dy="6.5">1/2</tspan><tspan dy="-6.5"> = 2.3 h)</tspan></text>
<path d="M469.8 185.9H519.3" stroke="#c88fe8" stroke-width="1" stroke-dasharray="5 2 1.2 2"/>
<rect x="490.1" y="181.7" width="8.4" height="8.4" fill="#cf6ff0"/>
<text x="530.2" y="194.5" class="lg" style="font-size:23px;word-spacing:0px">L2α.2 (t<tspan class="sb" dy="6.5">1/2</tspan><tspan dy="-6.5"> = 2.9 h)</tspan></text>
<path d="M469.8 245.7H519.3" stroke="#76481c" stroke-width="1"/>
<circle cx="494.3" cy="245.7" r="4.2" fill="#8a3c0c"/>
<text x="530.2" y="254.3" class="lg" style="font-size:23px;word-spacing:0px">L2βG (t<tspan class="sb" dy="6.5">1/2</tspan><tspan dy="-6.5"> = 2.7 h)</tspan></text>
<path d="M469.8 275.3H519.3" stroke="#d9994a" stroke-width="1" stroke-dasharray="5 2 1.2 2"/>
<rect x="490.1" y="271.1" width="8.4" height="8.4" fill="#f57f10"/>
<text x="530.2" y="283.9" class="lg" style="font-size:23px;word-spacing:0px">L2βG.2 (t<tspan class="sb" dy="6.5">1/2</tspan><tspan dy="-6.5"> = 3.9 h)</tspan></text>
<!-- Panel B -->
<text transform="translate(10.4 563.6) scale(0.94 1)" text-anchor="start" class="pl">B</text>
<path d="M88.6 586.9V926.6" stroke="#000" stroke-width="3" fill="none"/>
<path d="M78.1 916.1H746.1" stroke="#000" stroke-width="3" fill="none"/>
<text transform="translate(76.4 924.2) scale(0.97 1)" text-anchor="end" class="tk">0</text>
<path d="M78.1 850.56H88.6" stroke="#000" stroke-width="3"/>
<text transform="translate(76.4 858.66) scale(0.97 1)" text-anchor="end" class="tk">20</text>
<path d="M78.1 785.02H88.6" stroke="#000" stroke-width="3"/>
<text transform="translate(76.4 793.12) scale(0.97 1)" text-anchor="end" class="tk">40</text>
<path d="M78.1 719.48H88.6" stroke="#000" stroke-width="3"/>
<text transform="translate(76.4 727.58) scale(0.97 1)" text-anchor="end" class="tk">60</text>
<path d="M78.1 653.94H88.6" stroke="#000" stroke-width="3"/>
<text transform="translate(76.4 662.04) scale(0.97 1)" text-anchor="end" class="tk">80</text>
<path d="M78.1 588.4H88.6" stroke="#000" stroke-width="3"/>
<text transform="translate(76.4 596.5) scale(0.97 1)" text-anchor="end" class="tk">100</text>
<text transform="translate(88.6 948.5) scale(0.97 1)" text-anchor="middle" class="tk">0</text>
<path d="M219.8 916.1V926.6" stroke="#000" stroke-width="3"/>
<text transform="translate(219.8 948.5) scale(0.97 1)" text-anchor="middle" class="tk">2</text>
<path d="M351 916.1V926.6" stroke="#000" stroke-width="3"/>
<text transform="translate(351 948.5) scale(0.97 1)" text-anchor="middle" class="tk">4</text>
<path d="M482.2 916.1V926.6" stroke="#000" stroke-width="3"/>
<text transform="translate(482.2 948.5) scale(0.97 1)" text-anchor="middle" class="tk">6</text>
<path d="M613.4 916.1V926.6" stroke="#000" stroke-width="3"/>
<text transform="translate(613.4 948.5) scale(0.97 1)" text-anchor="middle" class="tk">8</text>
<path d="M744.6 916.1V926.6" stroke="#000" stroke-width="3"/>
<text transform="translate(744.6 948.5) scale(0.97 1)" text-anchor="middle" class="tk">10</text>
<path d="M154.2 916.1V923.6" stroke="#000" stroke-width="3"/>
<path d="M285.4 916.1V923.6" stroke="#000" stroke-width="3"/>
<path d="M416.6 916.1V923.6" stroke="#000" stroke-width="3"/>
<path d="M547.8 916.1V923.6" stroke="#000" stroke-width="3"/>
<path d="M679 916.1V923.6" stroke="#000" stroke-width="3"/>
<text x="419.2" y="985.1" text-anchor="middle" class="ax" style="font-size:22.4px">time (h)</text>
<text transform="translate(24 747.9) rotate(-90) scale(0.961 1)" text-anchor="middle" class="yl">Peptide remaining (%)</text>
<path d="M88.6 588.4L88.7 588.76L88.91 589.5L89.19 590.5L89.54 591.73L89.94 593.15L90.39 594.74L90.89 596.49L91.44 598.39L92.03 600.42L92.66 602.58L93.33 604.85L94.04 607.24L94.78 609.73L95.56 612.31L96.37 614.99L97.21 617.75L98.09 620.59L99 623.5L99.94 626.48L100.91 629.52L101.91 632.62L102.94 635.78L103.99 638.99L105.08 642.24L106.19 645.54L107.33 648.88L108.5 652.25L109.69 655.65L110.91 659.09L112.15 662.54L113.42 666.02L114.71 669.52L116.03 673.04L117.37 676.56L118.74 680.1L120.12 683.64L121.54 687.19L122.97 690.75L124.43 694.3L125.91 697.85L127.42 701.4L128.94 704.93L130.49 708.46L132.06 711.98L133.65 715.49L135.26 718.98L136.9 722.46L138.55 725.92L140.23 729.36L141.92 732.78L143.64 736.17L145.38 739.55L147.13 742.89L148.91 746.21L150.71 749.51L152.52 752.77L154.36 756.01L156.22 759.21L158.09 762.38L159.99 765.52L161.9 768.63L163.83 771.7L165.78 774.73L167.75 777.73L169.74 780.7L171.75 783.62L173.77 786.51L175.81 789.37L177.87 792.18L179.95 794.96L182.05 797.69L184.16 800.39L186.3 803.04L188.45 805.66L190.61 808.24L192.8 810.78L195 813.27L197.22 815.73L199.46 818.14L201.71 820.52L203.98 822.86L206.27 825.15L208.58 827.4L210.9 829.62L213.23 831.79L215.59 833.93L217.96 836.02L220.35 838.08L222.75 840.1L225.17 842.07L227.61 844.01L230.06 845.91L232.53 847.77L235.01 849.6L237.51 851.38L240.03 853.13L242.56 854.85L245.1 856.52L247.67 858.16L250.25 859.77L252.84 861.34L255.45 862.87L258.07 864.37L260.72 865.84L263.37 867.27L266.04 868.67L268.73 870.04L271.43 871.37L274.14 872.68L276.88 873.95L279.62 875.19L282.38 876.41L285.16 877.59L287.95 878.74L290.75 879.87L293.57 880.96L296.41 882.03L299.26 883.07L302.12 884.09L305 885.07L307.89 886.04L310.8 886.97L313.72 887.89L316.66 888.77L319.61 889.64L322.57 890.48L325.55 891.3L328.54 892.09L331.55 892.86L334.57 893.62L337.6 894.35L340.65 895.06L343.71 895.75L346.79 896.42L349.88 897.07L352.98 897.7L356.1 898.32L359.23 898.91L362.37 899.49L365.53 900.05L368.7 900.6L371.89 901.13L375.09 901.64L378.3 902.14L381.52 902.62L384.76 903.09L388.02 903.54L391.28 903.98L394.56 904.4L397.85 904.82L401.16 905.21L404.48 905.6L407.81 905.98L411.15 906.34L414.51 906.69L417.88 907.03L421.26 907.36L424.66 907.67L428.07 907.98L431.49 908.28L434.93 908.57L438.38 908.84L441.84 909.11L445.31 909.37L448.8 909.62L452.3 909.86L455.81 910.1L459.33 910.32L462.87 910.54L466.42 910.75L469.98 910.96L473.56 911.15L477.14 911.34L480.74 911.53L484.36 911.7L487.98 911.87L491.62 912.04L495.27 912.19L498.93 912.35L502.6 912.49L506.29 912.64L509.99 912.77L513.7 912.91L517.42 913.03L521.15 913.15L524.9 913.27L528.66 913.39L532.43 913.5L536.22 913.6L540.01 913.7L543.82 913.8L547.64 913.89L551.47 913.98L555.31 914.07L559.17 914.15L563.03 914.23L566.91 914.31L570.8 914.38L574.71 914.46L578.62 914.52L582.55 914.59L586.48 914.65L590.43 914.72L594.39 914.77L598.37 914.83L602.35 914.88L606.35 914.94L610.36 914.99L614.37 915.03L618.41 915.08L622.45 915.12L626.5 915.17L630.57 915.21L634.64 915.24L638.73 915.28L642.83 915.32L646.94 915.35L651.07 915.38L655.2 915.42L659.35 915.45L663.5 915.48L667.67 915.5L671.85 915.53L676.04 915.55L680.24 915.58L684.45 915.6L688.68 915.63L692.91 915.65L697.16 915.67L701.42 915.69L705.69 915.71L709.96 915.72L714.26 915.74L718.56 915.76L722.87 915.77L727.19 915.79L731.53 915.8L735.88 915.82L740.23 915.83L744.6 915.84" stroke="#c8202a" stroke-width="1.2" fill="none"/>
<path d="M154.2 719.48V762.08M149.9 719.48H158.5M149.9 762.08H158.5" stroke="#c8202a" stroke-width="0.9" fill="none"/>
<circle cx="88.6" cy="588.4" r="4" fill="#f30b16"/>
<circle cx="154.2" cy="740.78" r="4" fill="#f30b16"/>
<circle cx="285.4" cy="899.06" r="4" fill="#f30b16"/>
<circle cx="482.2" cy="914.46" r="4" fill="#f30b16"/>
<circle cx="679" cy="915.44" r="4" fill="#f30b16"/>
<rect x="463" y="584.3" width="266" height="53.5" fill="#fff" stroke="#7f7f7f" stroke-width="1"/>
<path d="M473 613H522.5" stroke="#c8202a" stroke-width="1"/>
<circle cx="497.5" cy="613" r="4.2" fill="#f30b16"/>
<text x="534" y="621.6" class="lg" style="font-size:22.5px;word-spacing:0px">D3β (t<tspan class="sb" dy="6.5">1/2</tspan><tspan dy="-6.5"> = 0.97 h)</tspan></text>
<!-- Panel C -->
<text transform="translate(10.2 1057.1) scale(0.95 1)" text-anchor="start" class="pl">C</text>
<path d="M89.1 1075.2V1498.6" stroke="#000" stroke-width="3" fill="none"/>
<path d="M78.6 1488.1H750.2" stroke="#000" stroke-width="3" fill="none"/>
<text transform="translate(75.3 1496.2) scale(0.97 1)" text-anchor="end" class="tk">0</text>
<path d="M78.6 1419.54H89.1" stroke="#000" stroke-width="3"/>
<text transform="translate(75.3 1427.64) scale(0.97 1)" text-anchor="end" class="tk">20</text>
<path d="M78.6 1350.98H89.1" stroke="#000" stroke-width="3"/>
<text transform="translate(75.3 1359.08) scale(0.97 1)" text-anchor="end" class="tk">40</text>
<path d="M78.6 1282.42H89.1" stroke="#000" stroke-width="3"/>
<text transform="translate(75.3 1290.52) scale(0.97 1)" text-anchor="end" class="tk">60</text>
<path d="M78.6 1213.86H89.1" stroke="#000" stroke-width="3"/>
<text transform="translate(75.3 1221.96) scale(0.97 1)" text-anchor="end" class="tk">80</text>
<path d="M78.6 1145.3H89.1" stroke="#000" stroke-width="3"/>
<text transform="translate(75.3 1153.4) scale(0.97 1)" text-anchor="end" class="tk">100</text>
<path d="M78.6 1076.74H89.1" stroke="#000" stroke-width="3"/>
<text transform="translate(75.3 1084.84) scale(0.97 1)" text-anchor="end" class="tk">120</text>
<text transform="translate(89.1 1523.5) scale(0.97 1)" text-anchor="middle" class="tk">0</text>
<path d="M308.97 1488.1V1498.6" stroke="#000" stroke-width="3"/>
<text transform="translate(308.97 1523.5) scale(0.97 1)" text-anchor="middle" class="tk">25</text>
<path d="M528.83 1488.1V1498.6" stroke="#000" stroke-width="3"/>
<text transform="translate(528.83 1523.5) scale(0.97 1)" text-anchor="middle" class="tk">50</text>
<path d="M748.7 1488.1V1498.6" stroke="#000" stroke-width="3"/>
<text transform="translate(748.7 1523.5) scale(0.97 1)" text-anchor="middle" class="tk">75</text>
<path d="M199.03 1488.1V1495.6" stroke="#000" stroke-width="3"/>
<path d="M418.9 1488.1V1495.6" stroke="#000" stroke-width="3"/>
<path d="M638.77 1488.1V1495.6" stroke="#000" stroke-width="3"/>
<text x="421.8" y="1557.5" text-anchor="middle" class="ax" style="font-size:22.6px">time (h)</text>
<text transform="translate(26.9 1278.2) rotate(-90) scale(0.962 1)" text-anchor="middle" class="yl">Peptide remaining (%)</text>
<path d="M89.1 1145.3L89.16 1145.72L89.29 1146.56L89.46 1147.7L89.67 1149.1L89.91 1150.71L90.18 1152.53L90.48 1154.52L90.81 1156.68L91.17 1159L91.55 1161.45L91.95 1164.04L92.38 1166.75L92.83 1169.57L93.3 1172.51L93.79 1175.54L94.3 1178.66L94.83 1181.87L95.37 1185.16L95.94 1188.53L96.53 1191.96L97.13 1195.46L97.75 1199.01L98.39 1202.62L99.04 1206.28L99.71 1209.98L100.4 1213.72L101.1 1217.5L101.82 1221.3L102.56 1225.14L103.31 1229L104.07 1232.87L104.85 1236.77L105.65 1240.67L106.46 1244.59L107.28 1248.51L108.12 1252.43L108.97 1256.36L109.84 1260.28L110.72 1264.2L111.61 1268.11L112.52 1272L113.44 1275.89L114.37 1279.76L115.32 1283.61L116.28 1287.44L117.25 1291.25L118.24 1295.03L119.24 1298.79L120.25 1302.53L121.27 1306.23L122.31 1309.9L123.35 1313.55L124.41 1317.15L125.49 1320.73L126.57 1324.26L127.67 1327.76L128.77 1331.23L129.89 1334.65L131.02 1338.03L132.17 1341.37L133.32 1344.67L134.49 1347.93L135.66 1351.14L136.85 1354.31L138.05 1357.43L139.26 1360.51L140.48 1363.55L141.71 1366.54L142.96 1369.48L144.21 1372.37L145.48 1375.22L146.75 1378.02L148.04 1380.78L149.34 1383.49L150.64 1386.15L151.96 1388.76L153.29 1391.33L154.63 1393.85L155.98 1396.32L157.34 1398.75L158.71 1401.13L160.09 1403.46L161.48 1405.75L162.88 1407.99L164.29 1410.19L165.71 1412.34L167.14 1414.44L168.58 1416.5L170.03 1418.52L171.49 1420.49L172.96 1422.42L174.44 1424.31L175.93 1426.15L177.43 1427.95L178.94 1429.72L180.45 1431.44L181.98 1433.12L183.52 1434.76L185.06 1436.36L186.62 1437.92L188.19 1439.44L189.76 1440.93L191.34 1442.38L192.94 1443.79L194.54 1445.17L196.15 1446.51L197.77 1447.82L199.4 1449.09L201.04 1450.33L202.69 1451.53L204.34 1452.71L206.01 1453.85L207.68 1454.96L209.37 1456.04L211.06 1457.1L212.76 1458.12L214.47 1459.11L216.19 1460.08L217.92 1461.01L219.65 1461.93L221.4 1462.81L223.15 1463.67L224.91 1464.5L226.68 1465.31L228.46 1466.1L230.25 1466.86L232.05 1467.6L233.85 1468.31L235.67 1469.01L237.49 1469.68L239.32 1470.33L241.16 1470.97L243.01 1471.58L244.86 1472.17L246.73 1472.75L248.6 1473.3L250.48 1473.84L252.37 1474.36L254.26 1474.87L256.17 1475.35L258.08 1475.83L260.01 1476.28L261.93 1476.72L263.87 1477.15L265.82 1477.56L267.77 1477.96L269.73 1478.34L271.7 1478.71L273.68 1479.07L275.67 1479.42L277.66 1479.75L279.67 1480.08L281.68 1480.39L283.69 1480.69L285.72 1480.98L287.75 1481.26L289.79 1481.53L291.84 1481.79L293.9 1482.04L295.96 1482.28L298.04 1482.51L300.12 1482.74L302.21 1482.95L304.3 1483.16L306.4 1483.36L308.52 1483.56L310.63 1483.74L312.76 1483.92L314.89 1484.09L317.04 1484.26L319.18 1484.42L321.34 1484.57L323.51 1484.72L325.68 1484.86L327.86 1485L330.04 1485.13L332.24 1485.25L334.44 1485.37L336.65 1485.49L338.86 1485.6L341.09 1485.71L343.32 1485.81L345.56 1485.91L347.8 1486L350.06 1486.1L352.32 1486.18L354.59 1486.27L356.86 1486.35L359.14 1486.42L361.43 1486.5L363.73 1486.57L366.03 1486.64L368.35 1486.7L370.66 1486.76L372.99 1486.82L375.32 1486.88L377.66 1486.94L380.01 1486.99L382.36 1487.04L384.73 1487.09L387.09 1487.13L389.47 1487.18L391.85 1487.22L394.24 1487.26L396.64 1487.3L399.04 1487.34L401.45 1487.37L403.87 1487.41L406.3 1487.44L408.73 1487.47L411.17 1487.5L413.61 1487.53L416.07 1487.55L418.52 1487.58L420.99 1487.6L423.46 1487.63L425.94 1487.65L428.43 1487.67L430.93 1487.69L433.43 1487.71L435.93 1487.73L438.45 1487.75L440.97 1487.77L443.5 1487.78L446.03 1487.8L448.57 1487.81L451.12 1487.83L453.68 1487.84L456.24 1487.85L458.81 1487.86L461.38 1487.88L463.96 1487.89L466.55 1487.9L469.15 1487.91L471.75 1487.92L474.36 1487.93L476.97 1487.94L479.6 1487.94L482.22 1487.95L484.86 1487.96" stroke="#c88fe8" stroke-width="1.1" fill="none" stroke-dasharray="3 1.6"/>
<path d="M89.1 1145.3L89.2 1145.53L89.4 1146L89.67 1146.64L90 1147.42L90.39 1148.32L90.83 1149.34L91.31 1150.46L91.84 1151.68L92.41 1152.99L93.02 1154.39L93.67 1155.86L94.35 1157.41L95.06 1159.03L95.81 1160.72L96.6 1162.47L97.41 1164.29L98.26 1166.16L99.14 1168.09L100.05 1170.07L100.98 1172.11L101.95 1174.19L102.94 1176.32L103.96 1178.49L105.01 1180.7L106.08 1182.96L107.18 1185.25L108.3 1187.57L109.45 1189.94L110.63 1192.33L111.83 1194.75L113.05 1197.2L114.3 1199.68L115.58 1202.18L116.87 1204.71L118.19 1207.26L119.53 1209.83L120.89 1212.42L122.28 1215.02L123.69 1217.65L125.12 1220.28L126.57 1222.93L128.04 1225.6L129.54 1228.27L131.05 1230.95L132.59 1233.65L134.14 1236.35L135.72 1239.05L137.32 1241.76L138.93 1244.48L140.57 1247.2L142.23 1249.92L143.9 1252.64L145.6 1255.36L147.32 1258.08L149.05 1260.8L150.8 1263.51L152.58 1266.22L154.37 1268.93L156.18 1271.63L158.01 1274.33L159.85 1277.02L161.72 1279.7L163.6 1282.37L165.5 1285.03L167.42 1287.69L169.36 1290.33L171.31 1292.96L173.28 1295.58L175.27 1298.19L177.28 1300.78L179.3 1303.36L181.35 1305.93L183.4 1308.48L185.48 1311.02L187.57 1313.54L189.68 1316.04L191.81 1318.53L193.95 1321L196.11 1323.46L198.28 1325.89L200.48 1328.31L202.68 1330.71L204.91 1333.09L207.15 1335.46L209.41 1337.8L211.68 1340.12L213.97 1342.42L216.27 1344.71L218.59 1346.97L220.93 1349.21L223.28 1351.43L225.64 1353.63L228.03 1355.81L230.42 1357.96L232.84 1360.1L235.27 1362.21L237.71 1364.3L240.17 1366.37L242.64 1368.42L245.13 1370.44L247.64 1372.44L250.15 1374.42L252.69 1376.38L255.24 1378.31L257.8 1380.23L260.38 1382.11L262.97 1383.98L265.58 1385.83L268.2 1387.65L270.84 1389.45L273.49 1391.22L276.15 1392.97L278.83 1394.71L281.53 1396.41L284.23 1398.1L286.95 1399.76L289.69 1401.4L292.44 1403.02L295.21 1404.62L297.98 1406.19L300.78 1407.75L303.58 1409.28L306.4 1410.79L309.23 1412.27L312.08 1413.74L314.94 1415.18L317.82 1416.6L320.71 1418.01L323.61 1419.39L326.52 1420.74L329.45 1422.08L332.39 1423.4L335.35 1424.7L338.32 1425.98L341.3 1427.23L344.3 1428.47L347.31 1429.69L350.33 1430.88L353.36 1432.06L356.41 1433.22L359.47 1434.36L362.55 1435.48L365.64 1436.58L368.74 1437.67L371.85 1438.73L374.98 1439.78L378.12 1440.81L381.27 1441.82L384.43 1442.81L387.61 1443.78L390.8 1444.74L394 1445.68L397.22 1446.61L400.45 1447.52L403.69 1448.41L406.94 1449.28L410.21 1450.14L413.49 1450.99L416.78 1451.81L420.08 1452.63L423.4 1453.42L426.73 1454.21L430.07 1454.97L433.42 1455.73L436.79 1456.46L440.16 1457.19L443.55 1457.9L446.96 1458.59L450.37 1459.28L453.8 1459.95L457.24 1460.6L460.69 1461.24L464.15 1461.87L467.62 1462.49L471.11 1463.1L474.61 1463.69L478.12 1464.27L481.64 1464.84L485.18 1465.39L488.72 1465.94L492.28 1466.47L495.85 1467L499.43 1467.51L503.03 1468.01L506.63 1468.5L510.25 1468.98L513.88 1469.45L517.52 1469.91L521.17 1470.36L524.83 1470.8L528.51 1471.23L532.19 1471.65L535.89 1472.06L539.6 1472.46L543.32 1472.86L547.06 1473.24L550.8 1473.62L554.56 1473.99L558.32 1474.35L562.1 1474.7L565.89 1475.04L569.69 1475.38L573.5 1475.7L577.33 1476.03L581.16 1476.34L585.01 1476.64L588.87 1476.94L592.73 1477.24L596.61 1477.52L600.5 1477.8L604.41 1478.07L608.32 1478.34L612.24 1478.6L616.18 1478.85L620.13 1479.09L624.08 1479.34L628.05 1479.57L632.03 1479.8L636.02 1480.02L640.02 1480.24L644.03 1480.46L648.06 1480.66L652.09 1480.87L656.14 1481.06L660.19 1481.26L664.26 1481.45L668.34 1481.63L672.42 1481.81L676.52 1481.98L680.63 1482.15L684.75 1482.32L688.88 1482.48L693.03 1482.64L697.18 1482.79L701.34 1482.94L705.51 1483.08L709.7 1483.23L713.89 1483.36L718.1 1483.5L722.32 1483.63" stroke="#6f30c8" stroke-width="1.2" fill="none"/>
<path d="M89.1 1145.3L89.1 1145.68L89.11 1146.45L89.13 1147.5L89.14 1148.79L89.16 1150.27L89.18 1151.94L89.2 1153.77L89.22 1155.76L89.25 1157.89L89.27 1160.15L89.3 1162.53L89.33 1165.03L89.37 1167.64L89.4 1170.35L89.43 1173.15L89.47 1176.04L89.51 1179.01L89.55 1182.06L89.59 1185.18L89.63 1188.37L89.67 1191.62L89.72 1194.92L89.76 1198.28L89.81 1201.69L89.85 1205.14L89.9 1208.64L89.95 1212.17L90 1215.73L90.06 1219.33L90.11 1222.95L90.16 1226.59L90.22 1230.25L90.28 1233.93L90.33 1237.63L90.39 1241.33L90.45 1245.04L90.51 1248.76L90.57 1252.48L90.64 1256.2L90.7 1259.91L90.77 1263.62L90.83 1267.33L90.9 1271.03L90.96 1274.71L91.03 1278.38L91.1 1282.04L91.17 1285.68L91.24 1289.3L91.31 1292.9L91.39 1296.47L91.46 1300.03L91.54 1303.56L91.61 1307.06L91.69 1310.54L91.76 1313.98L91.84 1317.4L91.92 1320.78L92 1324.14L92.08 1327.45L92.16 1330.74L92.24 1333.99L92.33 1337.2L92.41 1340.38L92.5 1343.52L92.58 1346.62L92.67 1349.68L92.75 1352.71L92.84 1355.69L92.93 1358.63L93.02 1361.54L93.11 1364.4L93.2 1367.22L93.29 1370L93.38 1372.74L93.48 1375.43L93.57 1378.08L93.66 1380.7L93.76 1383.26L93.86 1385.79L93.95 1388.28L94.05 1390.72L94.15 1393.12L94.25 1395.47L94.35 1397.79L94.45 1400.06L94.55 1402.3L94.65 1404.49L94.75 1406.63L94.86 1408.74L94.96 1410.81L95.06 1412.84L95.17 1414.82L95.27 1416.77L95.38 1418.68L95.49 1420.54L95.6 1422.37L95.7 1424.16L95.81 1425.91L95.92 1427.63L96.03 1429.31L96.15 1430.95L96.26 1432.55L96.37 1434.12L96.48 1435.65L96.6 1437.15L96.71 1438.61L96.83 1440.04L96.94 1441.43L97.06 1442.8L97.18 1444.13L97.29 1445.42L97.41 1446.69L97.53 1447.92L97.65 1449.13L97.77 1450.3L97.89 1451.45L98.02 1452.56L98.14 1453.65L98.26 1454.71L98.38 1455.74L98.51 1456.75L98.63 1457.73L98.76 1458.68L98.88 1459.61L99.01 1460.51L99.14 1461.39L99.27 1462.24L99.39 1463.07L99.52 1463.88L99.65 1464.66L99.78 1465.42L99.91 1466.17L100.04 1466.89L100.18 1467.59L100.31 1468.27L100.44 1468.93L100.58 1469.57L100.71 1470.19L100.85 1470.79L100.98 1471.38L101.12 1471.95L101.25 1472.5L101.39 1473.03L101.53 1473.55L101.67 1474.06L101.81 1474.54L101.95 1475.02L102.09 1475.47L102.23 1475.92L102.37 1476.35L102.51 1476.76L102.65 1477.17L102.79 1477.56L102.94 1477.93L103.08 1478.3L103.23 1478.65L103.37 1479L103.52 1479.33L103.66 1479.65L103.81 1479.96L103.96 1480.26L104.11 1480.55L104.25 1480.83L104.4 1481.1L104.55 1481.36L104.7 1481.61L104.85 1481.85L105 1482.09L105.16 1482.32L105.31 1482.54L105.46 1482.75L105.61 1482.95L105.77 1483.15L105.92 1483.34L106.08 1483.53L106.23 1483.7L106.39 1483.87L106.55 1484.04L106.7 1484.2L106.86 1484.35L107.02 1484.5L107.18 1484.64L107.34 1484.78L107.5 1484.91L107.66 1485.04L107.82 1485.16L107.98 1485.28L108.14 1485.39L108.3 1485.5L108.47 1485.61L108.63 1485.71L108.79 1485.81L108.96 1485.9L109.12 1485.99L109.29 1486.08L109.45 1486.16L109.62 1486.24L109.79 1486.32L109.95 1486.39L110.12 1486.46L110.29 1486.53L110.46 1486.6L110.63 1486.66L110.8 1486.72L110.97 1486.78L111.14 1486.84L111.31 1486.89L111.48 1486.94L111.66 1486.99L111.83 1487.04L112 1487.09L112.18 1487.13L112.35 1487.17L112.53 1487.21L112.7 1487.25L112.88 1487.29L113.05 1487.32L113.23 1487.36L113.41 1487.39L113.59 1487.42L113.76 1487.45L113.94 1487.48L114.12 1487.51L114.3 1487.53L114.48 1487.56L114.66 1487.58L114.84 1487.61L115.03 1487.63L115.21 1487.65L115.39 1487.67L115.57 1487.69L115.76 1487.71L115.94 1487.73L116.13 1487.74L116.31 1487.76L116.5 1487.78L116.68 1487.79L116.87 1487.81L117.06 1487.82L117.24 1487.83" stroke="#4fe04f" stroke-width="1.1" fill="none" stroke-dasharray="3 1.6"/>
<path d="M89.1 1145.3L89.2 1146.22L89.41 1148.09L89.69 1150.61L90.04 1153.68L90.45 1157.22L90.9 1161.16L91.41 1165.46L91.96 1170.09L92.55 1175L93.18 1180.16L93.86 1185.56L94.57 1191.15L95.31 1196.92L96.09 1202.84L96.91 1208.89L97.76 1215.06L98.64 1221.31L99.56 1227.64L100.5 1234.03L101.48 1240.45L102.48 1246.91L103.52 1253.37L104.58 1259.83L105.67 1266.28L106.79 1272.7L107.93 1279.09L109.1 1285.43L110.3 1291.71L111.53 1297.92L112.78 1304.07L114.05 1310.13L115.35 1316.11L116.68 1321.99L118.03 1327.78L119.4 1333.46L120.8 1339.03L122.22 1344.49L123.66 1349.84L125.13 1355.06L126.62 1360.17L128.13 1365.15L129.66 1370.01L131.22 1374.74L132.8 1379.34L134.4 1383.82L136.02 1388.17L137.66 1392.39L139.33 1396.48L141.01 1400.45L142.72 1404.29L144.44 1408L146.19 1411.6L147.96 1415.07L149.74 1418.41L151.55 1421.64L153.38 1424.76L155.22 1427.76L157.09 1430.64L158.97 1433.42L160.88 1436.09L162.8 1438.65L164.74 1441.11L166.7 1443.47L168.68 1445.73L170.68 1447.9L172.7 1449.98L174.74 1451.96L176.79 1453.86L178.86 1455.68L180.95 1457.41L183.06 1459.06L185.19 1460.64L187.33 1462.14L189.5 1463.58L191.67 1464.94L193.87 1466.24L196.09 1467.48L198.32 1468.65L200.57 1469.77L202.83 1470.83L205.12 1471.83L207.42 1472.79L209.73 1473.69L212.07 1474.55L214.42 1475.36L216.79 1476.13L219.17 1476.85L221.57 1477.54L223.99 1478.19L226.42 1478.8L228.87 1479.38L231.33 1479.93L233.82 1480.45L236.31 1480.93L238.83 1481.39L241.36 1481.82L243.9 1482.23L246.46 1482.61L249.04 1482.97L251.63 1483.31L254.24 1483.62L256.87 1483.92L259.5 1484.2L262.16 1484.46L264.83 1484.71L267.52 1484.94L270.22 1485.16L272.93 1485.36L275.66 1485.55L278.41 1485.73L281.17 1485.89L283.95 1486.05L286.74 1486.19L289.54 1486.33L292.36 1486.46L295.2 1486.57L298.05 1486.68L300.91 1486.79L303.79 1486.88L306.69 1486.97L309.6 1487.05L312.52 1487.13L315.46 1487.2L318.41 1487.27L321.37 1487.33L324.35 1487.39L327.35 1487.44L330.36 1487.49L333.38 1487.54L336.42 1487.58L339.47 1487.62L342.53 1487.66L345.61 1487.69L348.7 1487.73L351.81 1487.76L354.93 1487.78L358.06 1487.81L361.21 1487.83L364.37 1487.85L367.55 1487.87L370.74 1487.89L373.94 1487.91L377.16 1487.92L380.39 1487.94L383.63 1487.95L386.89 1487.96L390.16 1487.97L393.44 1487.98L396.74 1487.99L400.05 1488L403.37 1488.01L406.71 1488.02L410.06 1488.03L413.42 1488.03L416.8 1488.04L420.19 1488.04L423.59 1488.05L427 1488.05L430.43 1488.06L433.87 1488.06L437.33 1488.06L440.8 1488.07L444.28 1488.07L447.77 1488.07L451.27 1488.07L454.79 1488.08L458.32 1488.08L461.87 1488.08L465.42 1488.08L468.99 1488.08L472.57 1488.09L476.17 1488.09L479.78 1488.09L483.4 1488.09L487.03 1488.09L490.67 1488.09L494.33 1488.09L498 1488.09L501.68 1488.09L505.37 1488.09L509.08 1488.09L512.8 1488.09L516.53 1488.1L520.27 1488.1L524.03 1488.1L527.8 1488.1L531.58 1488.1L535.37 1488.1L539.17 1488.1L542.99 1488.1L546.82 1488.1L550.66 1488.1L554.51 1488.1L558.37 1488.1L562.25 1488.1L566.14 1488.1L570.04 1488.1L573.95 1488.1L577.87 1488.1L581.81 1488.1L585.76 1488.1L589.72 1488.1L593.69 1488.1L597.67 1488.1L601.66 1488.1L605.67 1488.1L609.69 1488.1L613.72 1488.1L617.76 1488.1L621.81 1488.1L625.88 1488.1L629.95 1488.1L634.04 1488.1L638.14 1488.1L642.25 1488.1L646.37 1488.1L650.51 1488.1L654.65 1488.1L658.81 1488.1L662.98 1488.1L667.16 1488.1L671.35 1488.1L675.55 1488.1L679.76 1488.1L683.99 1488.1L688.22 1488.1L692.47 1488.1L696.73 1488.1L701 1488.1L705.28 1488.1L709.57 1488.1L713.87 1488.1L718.19 1488.1L722.51 1488.1L726.85 1488.1L731.2 1488.1L735.56 1488.1L739.93 1488.1L744.31 1488.1L748.7 1488.1" stroke="#76481c" stroke-width="1.2" fill="none"/>
<path d="M89.1 1145.3L89.14 1145.66L89.22 1146.38L89.34 1147.37L89.48 1148.57L89.64 1149.96L89.82 1151.53L90.02 1153.25L90.24 1155.12L90.48 1157.12L90.73 1159.24L91 1161.48L91.29 1163.83L91.58 1166.29L91.9 1168.84L92.22 1171.48L92.56 1174.2L92.92 1177L93.28 1179.88L93.66 1182.83L94.05 1185.84L94.45 1188.91L94.87 1192.04L95.29 1195.23L95.73 1198.46L96.17 1201.73L96.63 1205.05L97.1 1208.4L97.58 1211.79L98.07 1215.21L98.57 1218.66L99.08 1222.13L99.6 1225.62L100.13 1229.14L100.67 1232.67L101.22 1236.21L101.78 1239.76L102.35 1243.32L102.92 1246.89L103.51 1250.46L104.11 1254.03L104.71 1257.61L105.33 1261.17L105.95 1264.74L106.58 1268.29L107.22 1271.84L107.87 1275.38L108.52 1278.9L109.19 1282.41L109.86 1285.9L110.55 1289.38L111.24 1292.84L111.94 1296.28L112.64 1299.69L113.36 1303.08L114.08 1306.45L114.81 1309.8L115.55 1313.11L116.29 1316.4L117.05 1319.66L117.81 1322.89L118.58 1326.09L119.36 1329.26L120.14 1332.4L120.93 1335.5L121.73 1338.57L122.54 1341.61L123.35 1344.61L124.18 1347.58L125.01 1350.51L125.84 1353.4L126.69 1356.26L127.54 1359.08L128.39 1361.86L129.26 1364.61L130.13 1367.32L131.01 1369.99L131.89 1372.62L132.79 1375.21L133.69 1377.76L134.59 1380.27L135.51 1382.75L136.43 1385.18L137.35 1387.58L138.29 1389.94L139.23 1392.26L140.17 1394.54L141.13 1396.78L142.09 1398.98L143.05 1401.14L144.03 1403.27L145.01 1405.36L145.99 1407.4L146.99 1409.42L147.99 1411.39L148.99 1413.33L150 1415.22L151.02 1417.09L152.05 1418.91L153.08 1420.7L154.11 1422.46L155.16 1424.17L156.21 1425.86L157.26 1427.51L158.32 1429.12L159.39 1430.7L160.47 1432.25L161.55 1433.76L162.63 1435.24L163.73 1436.69L164.82 1438.1L165.93 1439.49L167.04 1440.84L168.15 1442.16L169.28 1443.46L170.41 1444.72L171.54 1445.95L172.68 1447.16L173.83 1448.33L174.98 1449.48L176.13 1450.6L177.3 1451.69L178.47 1452.76L179.64 1453.8L180.82 1454.81L182.01 1455.8L183.2 1456.77L184.4 1457.71L185.6 1458.62L186.81 1459.51L188.03 1460.38L189.25 1461.23L190.47 1462.05L191.7 1462.86L192.94 1463.64L194.18 1464.4L195.43 1465.14L196.69 1465.86L197.95 1466.56L199.21 1467.24L200.48 1467.91L201.76 1468.55L203.04 1469.18L204.32 1469.79L205.62 1470.38L206.91 1470.95L208.22 1471.51L209.52 1472.05L210.84 1472.58L212.16 1473.09L213.48 1473.59L214.81 1474.07L216.14 1474.54L217.48 1474.99L218.83 1475.43L220.18 1475.86L221.53 1476.28L222.9 1476.68L224.26 1477.07L225.63 1477.45L227.01 1477.81L228.39 1478.17L229.78 1478.51L231.17 1478.85L232.57 1479.17L233.97 1479.48L235.38 1479.78L236.79 1480.08L238.21 1480.36L239.63 1480.64L241.06 1480.9L242.49 1481.16L243.93 1481.41L245.37 1481.65L246.82 1481.88L248.27 1482.11L249.73 1482.33L251.19 1482.54L252.66 1482.74L254.13 1482.94L255.61 1483.13L257.09 1483.31L258.58 1483.49L260.07 1483.66L261.57 1483.83L263.07 1483.99L264.58 1484.14L266.09 1484.29L267.61 1484.44L269.13 1484.57L270.66 1484.71L272.19 1484.84L273.72 1484.96L275.26 1485.08L276.81 1485.2L278.36 1485.31L279.91 1485.42L281.47 1485.52L283.04 1485.62L284.61 1485.72L286.18 1485.81L287.76 1485.9L289.35 1485.99L290.93 1486.07L292.53 1486.16L294.13 1486.23L295.73 1486.31L297.34 1486.38L298.95 1486.45L300.56 1486.51L302.19 1486.58L303.81 1486.64L305.44 1486.7L307.08 1486.76L308.72 1486.81L310.36 1486.86L312.01 1486.91L313.66 1486.96L315.32 1487.01L316.98 1487.06L318.65 1487.1L320.32 1487.14L322 1487.18L323.68 1487.22L325.37 1487.26L327.05 1487.29L328.75 1487.33L330.45 1487.36L332.15 1487.39L333.86 1487.42L335.57 1487.45L337.29 1487.48L339.01 1487.5L340.74 1487.53L342.47 1487.55L344.2 1487.58L345.94 1487.6L347.68 1487.62L349.43 1487.64L351.18 1487.66L352.94 1487.68" stroke="#4fe04f" stroke-width="1.1" fill="none" stroke-dasharray="5 2 1.2 2"/>
<path d="M89.1 1145.3L89.2 1149.6L89.41 1158.18L89.69 1169.51L90.04 1182.86L90.45 1197.69L90.9 1213.55L91.41 1230.09L91.96 1246.97L92.55 1263.94L93.18 1280.76L93.86 1297.24L94.57 1313.22L95.31 1328.59L96.09 1343.23L96.91 1357.09L97.76 1370.1L98.64 1382.25L99.56 1393.52L100.5 1403.91L101.48 1413.43L102.48 1422.12L103.52 1430.01L104.58 1437.14L105.67 1443.54L106.79 1449.27L107.93 1454.38L109.1 1458.91L110.3 1462.92L111.53 1466.44L112.78 1469.53L114.05 1472.23L115.35 1474.58L116.68 1476.62L118.03 1478.37L119.4 1479.89L120.8 1481.19L122.22 1482.29L123.66 1483.24L125.13 1484.04L126.62 1484.72L128.13 1485.3L129.66 1485.78L131.22 1486.18L132.8 1486.52L134.4 1486.8L136.02 1487.04L137.66 1487.23L139.33 1487.39L141.01 1487.53L142.72 1487.63L144.44 1487.72L146.19 1487.8L147.96 1487.86L149.74 1487.9L151.55 1487.94L153.38 1487.97L155.22 1488L157.09 1488.02L158.97 1488.04L160.88 1488.05L162.8 1488.06L164.74 1488.07L166.7 1488.08L168.68 1488.08L170.68 1488.09L172.7 1488.09L174.74 1488.09L176.79 1488.09L178.86 1488.09L180.95 1488.1L183.06 1488.1L185.19 1488.1L187.33 1488.1L189.5 1488.1L191.67 1488.1L193.87 1488.1L196.09 1488.1L198.32 1488.1L200.57 1488.1L202.83 1488.1L205.12 1488.1L207.42 1488.1L209.73 1488.1L212.07 1488.1L214.42 1488.1L216.79 1488.1L219.17 1488.1L221.57 1488.1L223.99 1488.1L226.42 1488.1L228.87 1488.1L231.33 1488.1L233.82 1488.1L236.31 1488.1L238.83 1488.1L241.36 1488.1L243.9 1488.1L246.46 1488.1L249.04 1488.1L251.63 1488.1L254.24 1488.1L256.87 1488.1L259.5 1488.1L262.16 1488.1L264.83 1488.1L267.52 1488.1L270.22 1488.1L272.93 1488.1L275.66 1488.1L278.41 1488.1L281.17 1488.1L283.95 1488.1L286.74 1488.1L289.54 1488.1L292.36 1488.1L295.2 1488.1L298.05 1488.1L300.91 1488.1L303.79 1488.1L306.69 1488.1L309.6 1488.1L312.52 1488.1L315.46 1488.1L318.41 1488.1L321.37 1488.1L324.35 1488.1L327.35 1488.1L330.36 1488.1L333.38 1488.1L336.42 1488.1L339.47 1488.1L342.53 1488.1L345.61 1488.1L348.7 1488.1L351.81 1488.1L354.93 1488.1L358.06 1488.1L361.21 1488.1L364.37 1488.1L367.55 1488.1L370.74 1488.1L373.94 1488.1L377.16 1488.1L380.39 1488.1L383.63 1488.1L386.89 1488.1L390.16 1488.1L393.44 1488.1L396.74 1488.1L400.05 1488.1L403.37 1488.1L406.71 1488.1L410.06 1488.1L413.42 1488.1L416.8 1488.1L420.19 1488.1L423.59 1488.1L427 1488.1L430.43 1488.1L433.87 1488.1L437.33 1488.1L440.8 1488.1L444.28 1488.1L447.77 1488.1L451.27 1488.1L454.79 1488.1L458.32 1488.1L461.87 1488.1L465.42 1488.1L468.99 1488.1L472.57 1488.1L476.17 1488.1L479.78 1488.1L483.4 1488.1L487.03 1488.1L490.67 1488.1L494.33 1488.1L498 1488.1L501.68 1488.1L505.37 1488.1L509.08 1488.1L512.8 1488.1L516.53 1488.1L520.27 1488.1L524.03 1488.1L527.8 1488.1L531.58 1488.1L535.37 1488.1L539.17 1488.1L542.99 1488.1L546.82 1488.1L550.66 1488.1L554.51 1488.1L558.37 1488.1L562.25 1488.1L566.14 1488.1L570.04 1488.1L573.95 1488.1L577.87 1488.1L581.81 1488.1L585.76 1488.1L589.72 1488.1L593.69 1488.1L597.67 1488.1L601.66 1488.1L605.67 1488.1L609.69 1488.1L613.72 1488.1L617.76 1488.1L621.81 1488.1L625.88 1488.1L629.95 1488.1L634.04 1488.1L638.14 1488.1L642.25 1488.1L646.37 1488.1L650.51 1488.1L654.65 1488.1L658.81 1488.1L662.98 1488.1L667.16 1488.1L671.35 1488.1L675.55 1488.1L679.76 1488.1L683.99 1488.1L688.22 1488.1L692.47 1488.1L696.73 1488.1L701 1488.1L705.28 1488.1L709.57 1488.1L713.87 1488.1L718.19 1488.1L722.51 1488.1L726.85 1488.1L731.2 1488.1L735.56 1488.1L739.93 1488.1L744.31 1488.1L748.7 1488.1" stroke="#2c7f2c" stroke-width="1.2" fill="none"/>
<path d="M89.1 1145.3L89.2 1145.64L89.41 1146.34L89.69 1147.29L90.04 1148.45L90.45 1149.79L90.9 1151.3L91.41 1152.96L91.96 1154.76L92.55 1156.68L93.18 1158.73L93.86 1160.89L94.57 1163.16L95.31 1165.53L96.09 1167.99L96.91 1170.54L97.76 1173.17L98.64 1175.88L99.56 1178.66L100.5 1181.51L101.48 1184.42L102.48 1187.39L103.52 1190.42L104.58 1193.5L105.67 1196.63L106.79 1199.81L107.93 1203.02L109.1 1206.27L110.3 1209.56L111.53 1212.88L112.78 1216.23L114.05 1219.6L115.35 1223L116.68 1226.42L118.03 1229.85L119.4 1233.3L120.8 1236.76L122.22 1240.23L123.66 1243.71L125.13 1247.19L126.62 1250.68L128.13 1254.17L129.66 1257.66L131.22 1261.14L132.8 1264.62L134.4 1268.1L136.02 1271.56L137.66 1275.01L139.33 1278.46L141.01 1281.89L142.72 1285.3L144.44 1288.7L146.19 1292.08L147.96 1295.44L149.74 1298.78L151.55 1302.1L153.38 1305.4L155.22 1308.67L157.09 1311.92L158.97 1315.14L160.88 1318.34L162.8 1321.5L164.74 1324.64L166.7 1327.75L168.68 1330.83L170.68 1333.88L172.7 1336.89L174.74 1339.88L176.79 1342.83L178.86 1345.75L180.95 1348.63L183.06 1351.48L185.19 1354.3L187.33 1357.08L189.5 1359.82L191.67 1362.53L193.87 1365.2L196.09 1367.84L198.32 1370.44L200.57 1373L202.83 1375.52L205.12 1378.01L207.42 1380.46L209.73 1382.88L212.07 1385.26L214.42 1387.59L216.79 1389.9L219.17 1392.16L221.57 1394.39L223.99 1396.58L226.42 1398.74L228.87 1400.85L231.33 1402.94L233.82 1404.98L236.31 1406.99L238.83 1408.96L241.36 1410.9L243.9 1412.8L246.46 1414.66L249.04 1416.49L251.63 1418.29L254.24 1420.05L256.87 1421.77L259.5 1423.46L262.16 1425.12L264.83 1426.75L267.52 1428.34L270.22 1429.9L272.93 1431.43L275.66 1432.92L278.41 1434.38L281.17 1435.82L283.95 1437.22L286.74 1438.59L289.54 1439.93L292.36 1441.24L295.2 1442.53L298.05 1443.78L300.91 1445.01L303.79 1446.2L306.69 1447.38L309.6 1448.52L312.52 1449.64L315.46 1450.73L318.41 1451.79L321.37 1452.83L324.35 1453.84L327.35 1454.83L330.36 1455.8L333.38 1456.74L336.42 1457.66L339.47 1458.56L342.53 1459.43L345.61 1460.28L348.7 1461.11L351.81 1461.92L354.93 1462.71L358.06 1463.47L361.21 1464.22L364.37 1464.95L367.55 1465.66L370.74 1466.35L373.94 1467.02L377.16 1467.67L380.39 1468.31L383.63 1468.93L386.89 1469.53L390.16 1470.11L393.44 1470.68L396.74 1471.24L400.05 1471.77L403.37 1472.3L406.71 1472.8L410.06 1473.3L413.42 1473.78L416.8 1474.24L420.19 1474.7L423.59 1475.13L427 1475.56L430.43 1475.97L433.87 1476.38L437.33 1476.77L440.8 1477.14L444.28 1477.51L447.77 1477.87L451.27 1478.21L454.79 1478.55L458.32 1478.87L461.87 1479.19L465.42 1479.49L468.99 1479.79L472.57 1480.07L476.17 1480.35L479.78 1480.62L483.4 1480.88L487.03 1481.13L490.67 1481.38L494.33 1481.61L498 1481.84L501.68 1482.06L505.37 1482.28L509.08 1482.49L512.8 1482.69L516.53 1482.88L520.27 1483.07L524.03 1483.25L527.8 1483.43L531.58 1483.6L535.37 1483.76L539.17 1483.92L542.99 1484.07L546.82 1484.22L550.66 1484.36L554.51 1484.5L558.37 1484.64L562.25 1484.76L566.14 1484.89L570.04 1485.01L573.95 1485.13L577.87 1485.24L581.81 1485.35L585.76 1485.45L589.72 1485.55L593.69 1485.65L597.67 1485.74L601.66 1485.83L605.67 1485.92L609.69 1486L613.72 1486.08L617.76 1486.16L621.81 1486.24L625.88 1486.31L629.95 1486.38L634.04 1486.45L638.14 1486.51L642.25 1486.58L646.37 1486.64L650.51 1486.69L654.65 1486.75L658.81 1486.8L662.98 1486.86L667.16 1486.91L671.35 1486.95L675.55 1487L679.76 1487.04L683.99 1487.09L688.22 1487.13L692.47 1487.17L696.73 1487.21L701 1487.24L705.28 1487.28L709.57 1487.31L713.87 1487.34L718.19 1487.38L722.51 1487.41L726.85 1487.43L731.2 1487.46L735.56 1487.49L739.93 1487.51L744.31 1487.54L748.7 1487.56" stroke="#c90d18" stroke-width="2" fill="none"/>
<path d="M97.89 1129.53V1305.04M93.59 1129.53H102.19M93.59 1305.04H102.19" stroke="#cf6ff0" stroke-width="0.9" fill="none"/>
<path d="M141.87 1353.38V1373.95M137.57 1353.38H146.17M137.57 1373.95H146.17" stroke="#cf6ff0" stroke-width="0.9" fill="none"/>
<path d="M168.25 1393.49V1424.34M163.95 1393.49H172.55M163.95 1424.34H172.55" stroke="#cf6ff0" stroke-width="0.9" fill="none"/>
<path d="M300.17 1444.22V1464.79M295.87 1444.22H304.47M295.87 1464.79H304.47" stroke="#cf6ff0" stroke-width="0.9" fill="none"/>
<path d="M97.89 1114.79V1193.63M93.59 1114.79H102.19M93.59 1193.63H102.19" stroke="#7433d6" stroke-width="0.9" fill="none"/>
<path d="M115.48 1171.7V1243.68M111.18 1171.7H119.78M111.18 1243.68H119.78" stroke="#7433d6" stroke-width="0.9" fill="none"/>
<path d="M141.87 1212.83V1311.56M137.57 1212.83H146.17M137.57 1311.56H146.17" stroke="#7433d6" stroke-width="0.9" fill="none"/>
<path d="M168.25 1279.33V1325.27M163.95 1279.33H172.55M163.95 1325.27H172.55" stroke="#7433d6" stroke-width="0.9" fill="none"/>
<path d="M300.17 1378.06V1390.4M295.87 1378.06H304.47M295.87 1390.4H304.47" stroke="#7433d6" stroke-width="0.9" fill="none"/>
<path d="M97.89 1217.29V1237.86M93.59 1217.29H102.19M93.59 1237.86H102.19" stroke="#8a3c0c" stroke-width="0.9" fill="none"/>
<path d="M97.89 1187.46V1238.88M93.59 1187.46H102.19M93.59 1238.88H102.19" stroke="#4fe04f" stroke-width="0.9" fill="none"/>
<path d="M115.48 1328.01V1348.58M111.18 1328.01H119.78M111.18 1348.58H119.78" stroke="#4fe04f" stroke-width="0.9" fill="none"/>
<path d="M168.25 1404.46V1425.02M163.95 1404.46H172.55M163.95 1425.02H172.55" stroke="#4fe04f" stroke-width="0.9" fill="none"/>
<path d="M300.17 1462.39V1472.67M295.87 1462.39H304.47M295.87 1472.67H304.47" stroke="#4fe04f" stroke-width="0.9" fill="none"/>
<path d="M97.89 1373.6V1388.69M93.59 1373.6H102.19M93.59 1388.69H102.19" stroke="#188a18" stroke-width="0.9" fill="none"/>
<path d="M97.89 1186.09V1196.38M93.59 1186.09H102.19M93.59 1196.38H102.19" stroke="#b01018" stroke-width="0.9" fill="none"/>
<path d="M115.48 1241.28V1255M111.18 1241.28H119.78M111.18 1255H119.78" stroke="#b01018" stroke-width="0.9" fill="none"/>
<path d="M141.87 1293.73V1317.04M137.57 1293.73H146.17M137.57 1317.04H146.17" stroke="#b01018" stroke-width="0.9" fill="none"/>
<path d="M168.25 1319.79V1333.5M163.95 1319.79H172.55M163.95 1333.5H172.55" stroke="#b01018" stroke-width="0.9" fill="none"/>
<path d="M300.17 1393.49V1407.2M295.87 1393.49H304.47M295.87 1407.2H304.47" stroke="#b01018" stroke-width="0.9" fill="none"/>
<polygon points="97.89,1210.99 99.51,1215.06 103.89,1215.34 100.51,1218.14 101.6,1222.38 97.89,1220.04 94.19,1222.38 95.28,1218.14 91.9,1215.34 96.28,1215.06" fill="#cf6ff0"/>
<polygon points="115.48,1286.75 117.1,1290.82 121.48,1291.1 118.1,1293.9 119.19,1298.14 115.48,1295.8 111.78,1298.14 112.87,1293.9 109.49,1291.1 113.87,1290.82" fill="#cf6ff0"/>
<polygon points="141.87,1357.36 143.48,1361.44 147.86,1361.72 144.48,1364.51 145.57,1368.76 141.87,1366.41 138.16,1368.76 139.25,1364.51 135.88,1361.72 140.25,1361.44" fill="#cf6ff0"/>
<polygon points="168.25,1402.61 169.87,1406.69 174.24,1406.97 170.87,1409.76 171.96,1414.01 168.25,1411.66 164.55,1414.01 165.64,1409.76 162.26,1406.97 166.64,1406.69" fill="#cf6ff0"/>
<polygon points="300.17,1448.21 301.79,1452.28 306.16,1452.56 302.79,1455.36 303.88,1459.6 300.17,1457.26 296.47,1459.6 297.56,1455.36 294.18,1452.56 298.56,1452.28" fill="#cf6ff0"/>
<polygon points="722.32,1483.17 723.93,1487.25 728.31,1487.52 724.93,1490.32 726.02,1494.57 722.32,1492.22 718.61,1494.57 719.7,1490.32 716.32,1487.52 720.7,1487.25" fill="#cf6ff0"/>
<circle cx="97.89" cy="1154.21" r="4.2" fill="#6a06ee"/>
<circle cx="115.48" cy="1207.69" r="4.2" fill="#6a06ee"/>
<circle cx="141.87" cy="1262.19" r="4.2" fill="#6a06ee"/>
<circle cx="168.25" cy="1302.3" r="4.2" fill="#6a06ee"/>
<circle cx="300.17" cy="1384.23" r="4.2" fill="#6a06ee"/>
<circle cx="722.32" cy="1490.16" r="4.2" fill="#6a06ee"/>
<circle cx="97.89" cy="1227.57" r="4.2" fill="#8a3c0c"/>
<circle cx="115.48" cy="1326.98" r="4.2" fill="#8a3c0c"/>
<circle cx="168.25" cy="1428.8" r="4.2" fill="#8a3c0c"/>
<circle cx="300.17" cy="1462.39" r="4.2" fill="#8a3c0c"/>
<rect x="93.69" y="1208.97" width="8.4" height="8.4" fill="#2bf02b"/>
<rect x="111.28" y="1334.1" width="8.4" height="8.4" fill="#2bf02b"/>
<rect x="137.67" y="1392.72" width="8.4" height="8.4" fill="#2bf02b"/>
<rect x="164.05" y="1410.54" width="8.4" height="8.4" fill="#2bf02b"/>
<rect x="295.97" y="1463.33" width="8.4" height="8.4" fill="#2bf02b"/>
<polygon points="97.89,1448.21 99.51,1452.28 103.89,1452.56 100.51,1455.36 101.6,1459.6 97.89,1457.26 94.19,1459.6 95.28,1455.36 91.9,1452.56 96.28,1452.28" fill="#2bf02b"/>
<polygon points="115.48,1468.43 117.1,1472.51 121.48,1472.78 118.1,1475.58 119.19,1479.83 115.48,1477.48 111.78,1479.83 112.87,1475.58 109.49,1472.78 113.87,1472.51" fill="#2bf02b"/>
<polygon points="141.87,1466.37 143.48,1470.45 147.86,1470.73 144.48,1473.52 145.57,1477.77 141.87,1475.42 138.16,1477.77 139.25,1473.52 135.88,1470.73 140.25,1470.45" fill="#2bf02b"/>
<polygon points="168.25,1466.37 169.87,1470.45 174.24,1470.73 170.87,1473.52 171.96,1477.77 168.25,1475.42 164.55,1477.77 165.64,1473.52 162.26,1470.73 166.64,1470.45" fill="#2bf02b"/>
<polygon points="300.17,1466.37 301.79,1470.45 306.16,1470.73 302.79,1473.52 303.88,1477.77 300.17,1475.42 296.47,1477.77 297.56,1473.52 294.18,1470.73 298.56,1470.45" fill="#2bf02b"/>
<polygon points="722.32,1470.49 723.93,1474.56 728.31,1474.84 724.93,1477.64 726.02,1481.88 722.32,1479.54 718.61,1481.88 719.7,1477.64 716.32,1474.84 720.7,1474.56" fill="#2bf02b"/>
<circle cx="97.89" cy="1381.15" r="4.2" fill="#188a18"/>
<circle cx="115.48" cy="1451.08" r="4.2" fill="#188a18"/>
<circle cx="141.87" cy="1467.87" r="4.2" fill="#188a18"/>
<circle cx="168.25" cy="1479.19" r="4.2" fill="#188a18"/>
<circle cx="300.17" cy="1481.24" r="4.2" fill="#188a18"/>
<circle cx="722.32" cy="1483.99" r="4.2" fill="#188a18"/>
<circle cx="89.1" cy="1145.3" r="4.2" fill="#f30b16"/>
<circle cx="97.89" cy="1191.24" r="4.2" fill="#f30b16"/>
<circle cx="115.48" cy="1248.14" r="4.2" fill="#f30b16"/>
<circle cx="141.87" cy="1305.39" r="4.2" fill="#f30b16"/>
<circle cx="168.25" cy="1326.64" r="4.2" fill="#f30b16"/>
<circle cx="300.17" cy="1400.34" r="4.2" fill="#f30b16"/>
<circle cx="722.32" cy="1468.22" r="4.2" fill="#f30b16"/>
<rect x="465.3" y="1062.3" width="290.5" height="298.5" fill="#fff" stroke="#7f7f7f" stroke-width="1"/>
<path d="M479.7 1092.5H529.2" stroke="#c90d18" stroke-width="2"/>
<circle cx="504.2" cy="1092.5" r="4.2" fill="#f30b16"/>
<text x="541" y="1101.1" class="lg" style="font-size:22.6px;word-spacing:0px">D4β (t<tspan class="sb" dy="6.5">1/2</tspan><tspan dy="-6.5"> = 8.1 h)</tspan></text>
<path d="M479.7 1142.7H529.2" stroke="#2c7f2c" stroke-width="1"/>
<circle cx="504.2" cy="1142.7" r="4.2" fill="#188a18"/>
<text x="541" y="1151.3" class="lg" style="font-size:22.6px;word-spacing:0px">D4A (t<tspan class="sb" dy="6.5">1/2</tspan><tspan dy="-6.5"> = 0.64 h)</tspan></text>
<path d="M479.7 1171.7H529.2" stroke="#4fe04f" stroke-width="1" stroke-dasharray="3 1.6"/>
<polygon points="504.2,1165.4 505.82,1169.48 510.19,1169.75 506.82,1172.55 507.9,1176.8 504.2,1174.45 500.5,1176.8 501.58,1172.55 498.21,1169.75 502.58,1169.48" fill="#2bf02b"/>
<text x="541" y="1180.3" class="lg" style="font-size:22.6px;word-spacing:0px">D4A.1 (t<tspan class="sb" dy="6.5">1/2</tspan><tspan dy="-6.5"> = 0.31 h)</tspan></text>
<path d="M479.7 1199.7H529.2" stroke="#4fe04f" stroke-width="1" stroke-dasharray="5 2 1.2 2"/>
<rect x="500" y="1195.5" width="8.4" height="8.4" fill="#2bf02b"/>
<text x="541" y="1208.3" class="lg" style="font-size:22.6px;word-spacing:0px">D4A.2 (t<tspan class="sb" dy="6.5">1/2</tspan><tspan dy="-6.5"> = 3.1 h)</tspan></text>
<path d="M478.1 1256H527.6" stroke="#6f30c8" stroke-width="1"/>
<circle cx="502.6" cy="1256" r="4.2" fill="#6a06ee"/>
<text x="538.4" y="1264.6" class="lg" style="font-size:22.6px;word-spacing:0.65px">D4α (t<tspan class="sb" dy="6.5">1/2</tspan><tspan dy="-6.5"> = 12 h)</tspan></text>
<path d="M479.7 1283.6H529.2" stroke="#c88fe8" stroke-width="1" stroke-dasharray="3 1.6"/>
<polygon points="504.2,1277.3 505.82,1281.38 510.19,1281.65 506.82,1284.45 507.9,1288.7 504.2,1286.35 500.5,1288.7 501.58,1284.45 498.21,1281.65 502.58,1281.38" fill="#cf6ff0"/>
<text x="541" y="1292.2" class="lg" style="font-size:22.6px;word-spacing:0.8px">D4α.1 (t<tspan class="sb" dy="6.5">1/2</tspan><tspan dy="-6.5"> = 4.0 h)</tspan></text>
<path d="M479.7 1337.8H529.2" stroke="#76481c" stroke-width="1"/>
<circle cx="504.2" cy="1337.8" r="4.2" fill="#8a3c0c"/>
<text x="541" y="1346.4" class="lg" style="font-size:22.6px;word-spacing:0px">D4βG (t<tspan class="sb" dy="6.5">1/2</tspan><tspan dy="-6.5"> = 3.0 h)</tspan></text>
</svg></body></html>
